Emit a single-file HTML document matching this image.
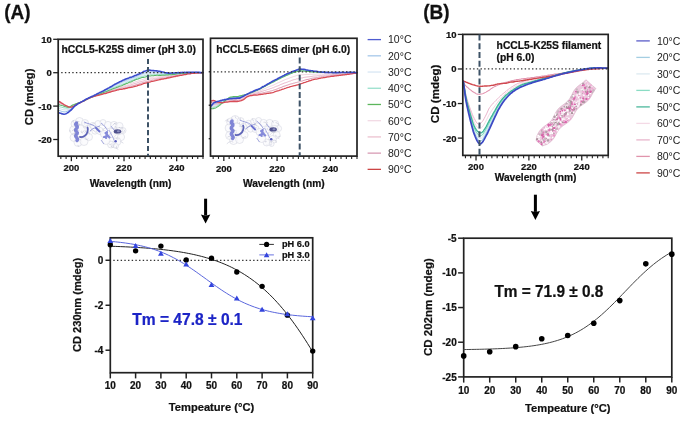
<!DOCTYPE html>
<html><head><meta charset="utf-8"><style>
html,body{margin:0;padding:0;background:#fff;width:685px;height:432px;overflow:hidden}
svg{display:block;filter:blur(0.3px)}
</style></head><body>
<svg width="685" height="432" viewBox="0 0 685 432" font-family='"Liberation Sans", sans-serif'>
<rect width="685" height="432" fill="#fff"/>
<text transform="translate(4.2,18.6) scale(1,1.09)" font-size="19" font-weight="bold" fill="#111" stroke="#111" stroke-width="0.25">(A)</text>
<text transform="translate(423.2,18.6) scale(1,1.09)" font-size="19" font-weight="bold" fill="#111" stroke="#111" stroke-width="0.25">(B)</text>
<g transform="translate(0,0)"><circle cx="75" cy="124" r="4" fill="#fafafc" fill-opacity="0.75" stroke="#cfd1dc" stroke-width="0.5"/><circle cx="79.5" cy="121.5" r="4" fill="#fafafc" fill-opacity="0.75" stroke="#cfd1dc" stroke-width="0.5"/><circle cx="85" cy="123" r="3.5" fill="#fafafc" fill-opacity="0.75" stroke="#cfd1dc" stroke-width="0.5"/><circle cx="73.5" cy="130" r="4" fill="#fafafc" fill-opacity="0.75" stroke="#cfd1dc" stroke-width="0.5"/><circle cx="74" cy="137.5" r="4" fill="#fafafc" fill-opacity="0.75" stroke="#cfd1dc" stroke-width="0.5"/><circle cx="78" cy="142.5" r="4" fill="#fafafc" fill-opacity="0.75" stroke="#cfd1dc" stroke-width="0.5"/><circle cx="84" cy="141.5" r="4" fill="#fafafc" fill-opacity="0.75" stroke="#cfd1dc" stroke-width="0.5"/><circle cx="89" cy="137" r="3.5" fill="#fafafc" fill-opacity="0.75" stroke="#cfd1dc" stroke-width="0.5"/><circle cx="88" cy="129" r="3.5" fill="#fafafc" fill-opacity="0.75" stroke="#cfd1dc" stroke-width="0.5"/><circle cx="80.5" cy="131" r="6" fill="#fafafc" fill-opacity="0.75" stroke="#cfd1dc" stroke-width="0.5"/><circle cx="93" cy="125.5" r="3.2" fill="#fafafc" fill-opacity="0.75" stroke="#cfd1dc" stroke-width="0.5"/><circle cx="98" cy="123.5" r="3" fill="#fafafc" fill-opacity="0.75" stroke="#cfd1dc" stroke-width="0.5"/><circle cx="103" cy="122.5" r="3" fill="#fafafc" fill-opacity="0.75" stroke="#cfd1dc" stroke-width="0.5"/><circle cx="95" cy="131" r="3.2" fill="#fafafc" fill-opacity="0.75" stroke="#cfd1dc" stroke-width="0.5"/><circle cx="100" cy="131" r="3.6" fill="#fafafc" fill-opacity="0.75" stroke="#cfd1dc" stroke-width="0.5"/><circle cx="108" cy="125" r="3.6" fill="#fafafc" fill-opacity="0.75" stroke="#cfd1dc" stroke-width="0.5"/><circle cx="114" cy="125" r="3.6" fill="#fafafc" fill-opacity="0.75" stroke="#cfd1dc" stroke-width="0.5"/><circle cx="119.5" cy="126" r="3.6" fill="#fafafc" fill-opacity="0.75" stroke="#cfd1dc" stroke-width="0.5"/><circle cx="123" cy="130.5" r="3" fill="#fafafc" fill-opacity="0.75" stroke="#cfd1dc" stroke-width="0.5"/><circle cx="121" cy="137" r="3.6" fill="#fafafc" fill-opacity="0.75" stroke="#cfd1dc" stroke-width="0.5"/><circle cx="117" cy="141.5" r="4" fill="#fafafc" fill-opacity="0.75" stroke="#cfd1dc" stroke-width="0.5"/><circle cx="111" cy="144.5" r="3.5" fill="#fafafc" fill-opacity="0.75" stroke="#cfd1dc" stroke-width="0.5"/><circle cx="106" cy="140.5" r="4" fill="#fafafc" fill-opacity="0.75" stroke="#cfd1dc" stroke-width="0.5"/><circle cx="104" cy="134" r="3.6" fill="#fafafc" fill-opacity="0.75" stroke="#cfd1dc" stroke-width="0.5"/><circle cx="112" cy="133" r="4.6" fill="#fafafc" fill-opacity="0.75" stroke="#cfd1dc" stroke-width="0.5"/><circle cx="119" cy="131" r="3.6" fill="#fafafc" fill-opacity="0.75" stroke="#cfd1dc" stroke-width="0.5"/><circle cx="116" cy="146" r="2.5" fill="#fafafc" fill-opacity="0.75" stroke="#cfd1dc" stroke-width="0.5"/><path d="M100.01 128.97 Q96.39 128.73 96.47 129.02" fill="none" stroke="#b4b6ca" stroke-width="0.45"/><path d="M73.91 120.72 Q72.11 120.59 73.31 122.68" fill="none" stroke="#b4b6ca" stroke-width="0.45"/><path d="M102.32 129.9 Q105.66 127.7 106.13 127.18" fill="none" stroke="#b4b6ca" stroke-width="0.45"/><path d="M78.08 121.53 Q76.04 122.81 76.55 123.43" fill="none" stroke="#b4b6ca" stroke-width="0.45"/><path d="M73.34 124.18 Q73.32 124.3 74.78 123.74" fill="none" stroke="#b4b6ca" stroke-width="0.45"/><path d="M95.38 126.99 Q95.53 127.89 97.73 128.19" fill="none" stroke="#b4b6ca" stroke-width="0.45"/><path d="M78.51 132.67 Q77.73 133.47 74.82 133.68" fill="none" stroke="#b4b6ca" stroke-width="0.45"/><path d="M119.03 127.41 Q120.13 127.52 120.59 127.98" fill="none" stroke="#b4b6ca" stroke-width="0.45"/><path d="M117.04 146.34 Q115.18 147.64 116.83 147.33" fill="none" stroke="#b4b6ca" stroke-width="0.45"/><path d="M116.03 126.54 Q113.66 126.89 115.11 127.55" fill="none" stroke="#b4b6ca" stroke-width="0.45"/><path d="M79.41 121.51 Q76.16 121.31 75.88 123.12" fill="none" stroke="#b4b6ca" stroke-width="0.45"/><path d="M74.51 131.48 Q75.99 134.08 74.91 133.78" fill="none" stroke="#b4b6ca" stroke-width="0.45"/><path d="M85.59 130.46 Q86.86 130.22 84.46 132.76" fill="none" stroke="#b4b6ca" stroke-width="0.45"/><path d="M79.87 124.96 Q79.16 123.96 77.73 124.87" fill="none" stroke="#b4b6ca" stroke-width="0.45"/><path d="M70.23 130.57 Q71.52 131.53 69.18 130.97" fill="none" stroke="#b4b6ca" stroke-width="0.45"/><path d="M120.37 141.4 Q121.44 141.89 123.37 143.19" fill="none" stroke="#b4b6ca" stroke-width="0.45"/><path d="M75.8 137.03 Q72.88 134.38 72.3 134.43" fill="none" stroke="#b4b6ca" stroke-width="0.45"/><path d="M75.68 128.91 Q74.24 128.63 71.89 131.15" fill="none" stroke="#b4b6ca" stroke-width="0.45"/><path d="M84.13 128.42 Q84.98 129.26 83.04 126.16" fill="none" stroke="#b4b6ca" stroke-width="0.45"/><path d="M96.1 132.52 Q93.81 130.38 92.78 130.13" fill="none" stroke="#b4b6ca" stroke-width="0.45"/><path d="M116.42 122.84 Q114.62 122.78 112.6 125.55" fill="none" stroke="#b4b6ca" stroke-width="0.45"/><path d="M118.35 138.89 Q116.06 139.57 116.44 138.09" fill="none" stroke="#b4b6ca" stroke-width="0.45"/><path d="M115.44 147.55 Q118.13 149.43 118.27 149.38" fill="none" stroke="#b4b6ca" stroke-width="0.45"/><path d="M82.7 133.53 Q80.23 131.23 81.54 130.7" fill="none" stroke="#b4b6ca" stroke-width="0.45"/><path d="M84.51 138.78 Q88.09 140.57 88.17 138.46" fill="none" stroke="#b4b6ca" stroke-width="0.45"/><path d="M123.48 128.94 Q121.15 126.94 121.24 127.3" fill="none" stroke="#b4b6ca" stroke-width="0.45"/><path d="M117.06 132.38 Q116.02 133.93 118.29 134.18" fill="none" stroke="#b4b6ca" stroke-width="0.45"/><path d="M112.01 132.34 Q110.05 134.41 109.44 134.08" fill="none" stroke="#b4b6ca" stroke-width="0.45"/><path d="M124.41 129.88 Q124.92 129.9 123.62 132.56" fill="none" stroke="#b4b6ca" stroke-width="0.45"/><path d="M77.11 122.53 Q77.32 124.76 80.35 124.37" fill="none" stroke="#b4b6ca" stroke-width="0.45"/><path d="M89.62 134.46 Q90.03 133.6 86.67 131.55" fill="none" stroke="#b4b6ca" stroke-width="0.45"/><path d="M116.26 124.33 Q114.23 124.06 114.28 123.09" fill="none" stroke="#b4b6ca" stroke-width="0.45"/><path d="M84.52 130.57 Q82.46 131.63 81.57 133.03" fill="none" stroke="#b4b6ca" stroke-width="0.45"/><path d="M94.65 123.49 Q91.35 124.28 90.68 125.29" fill="none" stroke="#b4b6ca" stroke-width="0.45"/><path d="M110.61 134.69 Q110.14 135.89 109.22 134.8" fill="none" stroke="#b4b6ca" stroke-width="0.45"/><path d="M75.94 134.81 Q76.03 134.17 73.93 133.47" fill="none" stroke="#b4b6ca" stroke-width="0.45"/><path d="M121.1 131.3 Q121.6 132.09 122 131.33" fill="none" stroke="#b4b6ca" stroke-width="0.45"/><path d="M109.16 144.3 Q111.16 145.35 112.69 142.85" fill="none" stroke="#b4b6ca" stroke-width="0.45"/><path d="M76.81 131.26 Q73.39 131.16 73.39 129.71" fill="none" stroke="#b4b6ca" stroke-width="0.45"/><path d="M113.9 144.91 Q113.16 144.13 111.14 146.21" fill="none" stroke="#b4b6ca" stroke-width="0.45"/><path d="M79.04 130.95 Q77.89 129.74 79.17 129.98" fill="none" stroke="#b4b6ca" stroke-width="0.45"/><path d="M101.03 131.21 Q99.59 130.76 97.17 130.2" fill="none" stroke="#b4b6ca" stroke-width="0.45"/><path d="M114.15 147.15 Q110.73 147.56 110.99 145.74" fill="none" stroke="#b4b6ca" stroke-width="0.45"/><path d="M85.14 121.89 Q86.11 122.16 84.52 124.36" fill="none" stroke="#b4b6ca" stroke-width="0.45"/><path d="M78.36 145.58 Q77 144.41 78.93 146.78" fill="none" stroke="#b4b6ca" stroke-width="0.45"/><path d="M76.5 123 C73.5 125 79.5 126 76.5 128.5 C73.5 131 79.5 132 76.5 134.5 C73.5 137 79.5 138 77 140.5" fill="none" stroke="#6c72d0" stroke-width="3.4" stroke-linecap="round" opacity="0.85"/><path d="M80 137 C83 137.5 86.5 135.5 87.5 132 C88.2 130 88 128.5 87.5 127.5" fill="none" stroke="#4e54b0" stroke-width="1.8" stroke-linecap="round" opacity="0.9"/><path d="M84 122 C88 124 92 124 96 127 M90 131 C93 128 97 127 100 126" fill="none" stroke="#7a80d0" stroke-width="0.7"/><path d="M96 128 L99.5 131.5" stroke="#6a70d0" stroke-width="1.8" stroke-linecap="round"/><path d="M101 123 C104 125 106 128 108 131" fill="none" stroke="#8a8fd8" stroke-width="0.8"/><path d="M105.5 133 L109.5 137.5 M107 132 L106 138 M104 137 L108 136" stroke="#7a80d8" stroke-width="2.2" stroke-linecap="round" opacity="0.9"/><ellipse cx="117.5" cy="131.4" rx="3.8" ry="2.2" fill="#50528e"/><ellipse cx="118.4" cy="131.2" rx="1.5" ry="1" fill="#8c8fc0"/><circle cx="115.6" cy="141.2" r="1.3" fill="#5a5ebe"/><path d="M111 126 L114 130 M101 140 L104 144 M109 130 C111 134 113 137 114 140" stroke="#8a8fd8" stroke-width="0.7" fill="none"/></g>
<g transform="translate(155.6,-2)"><circle cx="75" cy="124" r="4" fill="#fafafc" fill-opacity="0.75" stroke="#cfd1dc" stroke-width="0.5"/><circle cx="79.5" cy="121.5" r="4" fill="#fafafc" fill-opacity="0.75" stroke="#cfd1dc" stroke-width="0.5"/><circle cx="85" cy="123" r="3.5" fill="#fafafc" fill-opacity="0.75" stroke="#cfd1dc" stroke-width="0.5"/><circle cx="73.5" cy="130" r="4" fill="#fafafc" fill-opacity="0.75" stroke="#cfd1dc" stroke-width="0.5"/><circle cx="74" cy="137.5" r="4" fill="#fafafc" fill-opacity="0.75" stroke="#cfd1dc" stroke-width="0.5"/><circle cx="78" cy="142.5" r="4" fill="#fafafc" fill-opacity="0.75" stroke="#cfd1dc" stroke-width="0.5"/><circle cx="84" cy="141.5" r="4" fill="#fafafc" fill-opacity="0.75" stroke="#cfd1dc" stroke-width="0.5"/><circle cx="89" cy="137" r="3.5" fill="#fafafc" fill-opacity="0.75" stroke="#cfd1dc" stroke-width="0.5"/><circle cx="88" cy="129" r="3.5" fill="#fafafc" fill-opacity="0.75" stroke="#cfd1dc" stroke-width="0.5"/><circle cx="80.5" cy="131" r="6" fill="#fafafc" fill-opacity="0.75" stroke="#cfd1dc" stroke-width="0.5"/><circle cx="93" cy="125.5" r="3.2" fill="#fafafc" fill-opacity="0.75" stroke="#cfd1dc" stroke-width="0.5"/><circle cx="98" cy="123.5" r="3" fill="#fafafc" fill-opacity="0.75" stroke="#cfd1dc" stroke-width="0.5"/><circle cx="103" cy="122.5" r="3" fill="#fafafc" fill-opacity="0.75" stroke="#cfd1dc" stroke-width="0.5"/><circle cx="95" cy="131" r="3.2" fill="#fafafc" fill-opacity="0.75" stroke="#cfd1dc" stroke-width="0.5"/><circle cx="100" cy="131" r="3.6" fill="#fafafc" fill-opacity="0.75" stroke="#cfd1dc" stroke-width="0.5"/><circle cx="108" cy="125" r="3.6" fill="#fafafc" fill-opacity="0.75" stroke="#cfd1dc" stroke-width="0.5"/><circle cx="114" cy="125" r="3.6" fill="#fafafc" fill-opacity="0.75" stroke="#cfd1dc" stroke-width="0.5"/><circle cx="119.5" cy="126" r="3.6" fill="#fafafc" fill-opacity="0.75" stroke="#cfd1dc" stroke-width="0.5"/><circle cx="123" cy="130.5" r="3" fill="#fafafc" fill-opacity="0.75" stroke="#cfd1dc" stroke-width="0.5"/><circle cx="121" cy="137" r="3.6" fill="#fafafc" fill-opacity="0.75" stroke="#cfd1dc" stroke-width="0.5"/><circle cx="117" cy="141.5" r="4" fill="#fafafc" fill-opacity="0.75" stroke="#cfd1dc" stroke-width="0.5"/><circle cx="111" cy="144.5" r="3.5" fill="#fafafc" fill-opacity="0.75" stroke="#cfd1dc" stroke-width="0.5"/><circle cx="106" cy="140.5" r="4" fill="#fafafc" fill-opacity="0.75" stroke="#cfd1dc" stroke-width="0.5"/><circle cx="104" cy="134" r="3.6" fill="#fafafc" fill-opacity="0.75" stroke="#cfd1dc" stroke-width="0.5"/><circle cx="112" cy="133" r="4.6" fill="#fafafc" fill-opacity="0.75" stroke="#cfd1dc" stroke-width="0.5"/><circle cx="119" cy="131" r="3.6" fill="#fafafc" fill-opacity="0.75" stroke="#cfd1dc" stroke-width="0.5"/><circle cx="116" cy="146" r="2.5" fill="#fafafc" fill-opacity="0.75" stroke="#cfd1dc" stroke-width="0.5"/><path d="M108.54 130.76 Q107.37 133.28 105.12 133.39" fill="none" stroke="#b4b6ca" stroke-width="0.45"/><path d="M74.69 143.69 Q72.77 144.13 71.22 145.86" fill="none" stroke="#b4b6ca" stroke-width="0.45"/><path d="M85 121.88 Q83.55 119.74 85.22 120.31" fill="none" stroke="#b4b6ca" stroke-width="0.45"/><path d="M72.82 124.05 Q73.11 122.63 71.32 122.88" fill="none" stroke="#b4b6ca" stroke-width="0.45"/><path d="M98 123.34 Q96.39 119.95 96.78 120.45" fill="none" stroke="#b4b6ca" stroke-width="0.45"/><path d="M111.05 134.53 Q111.55 132.88 108.57 134.38" fill="none" stroke="#b4b6ca" stroke-width="0.45"/><path d="M115.86 130.97 Q115.41 132 115.82 132.97" fill="none" stroke="#b4b6ca" stroke-width="0.45"/><path d="M73.05 121.89 Q70.35 121.27 69.61 123.34" fill="none" stroke="#b4b6ca" stroke-width="0.45"/><path d="M74.73 143.24 Q75.34 142.72 77.7 144.26" fill="none" stroke="#b4b6ca" stroke-width="0.45"/><path d="M78.82 131.37 Q79.77 132.95 76.93 134.15" fill="none" stroke="#b4b6ca" stroke-width="0.45"/><path d="M87.33 128.7 Q85.24 128.35 83.34 127.99" fill="none" stroke="#b4b6ca" stroke-width="0.45"/><path d="M81.25 133.14 Q77.63 132.03 77.29 131.73" fill="none" stroke="#b4b6ca" stroke-width="0.45"/><path d="M87.04 124.98 Q88.38 125.7 87.72 125.16" fill="none" stroke="#b4b6ca" stroke-width="0.45"/><path d="M110.1 144.37 Q111.59 142.45 109.21 143.33" fill="none" stroke="#b4b6ca" stroke-width="0.45"/><path d="M119.95 136.82 Q119.44 137.85 121.82 138.69" fill="none" stroke="#b4b6ca" stroke-width="0.45"/><path d="M115.06 142.79 Q116.13 144.74 115.73 145.15" fill="none" stroke="#b4b6ca" stroke-width="0.45"/><path d="M77.45 128.82 Q76.11 130.34 74.29 130.84" fill="none" stroke="#b4b6ca" stroke-width="0.45"/><path d="M105.07 138.42 Q106.22 137.92 104.98 135.44" fill="none" stroke="#b4b6ca" stroke-width="0.45"/><path d="M111.26 125.57 Q110.48 123.68 107.86 124.16" fill="none" stroke="#b4b6ca" stroke-width="0.45"/><path d="M111.43 147.27 Q111.32 147.65 111.38 146.57" fill="none" stroke="#b4b6ca" stroke-width="0.45"/><path d="M112.95 136.51 Q112.11 134.26 114.09 133.97" fill="none" stroke="#b4b6ca" stroke-width="0.45"/><path d="M111.62 127.13 Q110.13 124.75 112.16 124.21" fill="none" stroke="#b4b6ca" stroke-width="0.45"/><path d="M107.63 138.77 Q108.4 138 109.04 137.51" fill="none" stroke="#b4b6ca" stroke-width="0.45"/><path d="M120.05 123.98 Q120.03 125.12 123.87 126.6" fill="none" stroke="#b4b6ca" stroke-width="0.45"/><path d="M115.91 147.04 Q114.55 148.13 115.51 145.66" fill="none" stroke="#b4b6ca" stroke-width="0.45"/><path d="M81.8 135.44 Q82.18 134.05 78.93 135.59" fill="none" stroke="#b4b6ca" stroke-width="0.45"/><path d="M115.93 133.26 Q116.41 135.46 119.03 134.48" fill="none" stroke="#b4b6ca" stroke-width="0.45"/><path d="M95.24 127.06 Q93.07 127.95 92.37 126.12" fill="none" stroke="#b4b6ca" stroke-width="0.45"/><path d="M121.88 139.39 Q122.97 138.33 125.09 138.13" fill="none" stroke="#b4b6ca" stroke-width="0.45"/><path d="M90.2 130.84 Q87.71 130.83 88.4 128.13" fill="none" stroke="#b4b6ca" stroke-width="0.45"/><path d="M83.96 125.97 Q83.5 126.87 84.05 124.11" fill="none" stroke="#b4b6ca" stroke-width="0.45"/><path d="M119.52 142.36 Q121.81 143.8 120.57 144.84" fill="none" stroke="#b4b6ca" stroke-width="0.45"/><path d="M111.01 131.53 Q111.17 130.16 113.03 132.39" fill="none" stroke="#b4b6ca" stroke-width="0.45"/><path d="M86.68 140.17 Q89.2 138.65 90.49 138.73" fill="none" stroke="#b4b6ca" stroke-width="0.45"/><path d="M101.21 129.83 Q98.71 130.44 98.55 127.8" fill="none" stroke="#b4b6ca" stroke-width="0.45"/><path d="M97.84 124.6 Q99.26 124.65 101.09 127.58" fill="none" stroke="#b4b6ca" stroke-width="0.45"/><path d="M80.77 120.72 Q79.1 118.53 79.51 118.27" fill="none" stroke="#b4b6ca" stroke-width="0.45"/><path d="M111.98 130.38 Q111.14 129.81 111.29 130.53" fill="none" stroke="#b4b6ca" stroke-width="0.45"/><path d="M73.48 126.33 Q75.36 125.72 77.22 124.08" fill="none" stroke="#b4b6ca" stroke-width="0.45"/><path d="M118.32 124.48 Q117 123.51 116.49 122.97" fill="none" stroke="#b4b6ca" stroke-width="0.45"/><path d="M71.81 139.29 Q73.74 137.21 74.97 139.12" fill="none" stroke="#b4b6ca" stroke-width="0.45"/><path d="M116.23 143.66 Q116.56 141.53 120.01 142.15" fill="none" stroke="#b4b6ca" stroke-width="0.45"/><path d="M122.72 139.65 Q123.14 140.65 123.9 141.24" fill="none" stroke="#b4b6ca" stroke-width="0.45"/><path d="M106.15 127.11 Q105.21 127.16 103.17 125.62" fill="none" stroke="#b4b6ca" stroke-width="0.45"/><path d="M76.28 120.11 Q75.93 119.25 76.47 120.61" fill="none" stroke="#b4b6ca" stroke-width="0.45"/><path d="M76.5 123 C73.5 125 79.5 126 76.5 128.5 C73.5 131 79.5 132 76.5 134.5 C73.5 137 79.5 138 77 140.5" fill="none" stroke="#6c72d0" stroke-width="3.4" stroke-linecap="round" opacity="0.85"/><path d="M80 137 C83 137.5 86.5 135.5 87.5 132 C88.2 130 88 128.5 87.5 127.5" fill="none" stroke="#4e54b0" stroke-width="1.8" stroke-linecap="round" opacity="0.9"/><path d="M84 122 C88 124 92 124 96 127 M90 131 C93 128 97 127 100 126" fill="none" stroke="#7a80d0" stroke-width="0.7"/><path d="M96 128 L99.5 131.5" stroke="#6a70d0" stroke-width="1.8" stroke-linecap="round"/><path d="M101 123 C104 125 106 128 108 131" fill="none" stroke="#8a8fd8" stroke-width="0.8"/><path d="M105.5 133 L109.5 137.5 M107 132 L106 138 M104 137 L108 136" stroke="#7a80d8" stroke-width="2.2" stroke-linecap="round" opacity="0.9"/><ellipse cx="117.5" cy="131.4" rx="3.8" ry="2.2" fill="#50528e"/><ellipse cx="118.4" cy="131.2" rx="1.5" ry="1" fill="#8c8fc0"/><circle cx="115.6" cy="141.2" r="1.3" fill="#5a5ebe"/><path d="M111 126 L114 130 M101 140 L104 144 M109 130 C111 134 113 137 114 140" stroke="#8a8fd8" stroke-width="0.7" fill="none"/></g>
<g transform="translate(539.2,143.2) rotate(-48.8)"><path d="M0 -4.26 L1.12 -4.83 L2.24 -5.46 L3.36 -6.17 L4.49 -6.73 L5.61 -7.03 L6.73 -7.3 L7.85 -7.54 L8.97 -7.71 L10.09 -7.83 L11.21 -7.87 L12.34 -7.83 L13.46 -7.73 L14.58 -7.56 L15.7 -7.34 L16.82 -7.09 L17.94 -6.82 L19.06 -6.55 L20.19 -6.31 L21.31 -6.11 L22.43 -5.96 L23.55 -5.88 L24.67 -5.87 L25.79 -5.94 L26.91 -6.07 L28.04 -6.27 L29.16 -6.52 L30.28 -6.81 L31.4 -7.11 L32.52 -7.41 L33.64 -7.69 L34.76 -7.92 L35.89 -8.11 L37.01 -8.23 L38.13 -8.27 L39.25 -8.24 L40.37 -8.14 L41.49 -7.98 L42.61 -7.76 L43.74 -7.51 L44.86 -7.25 L45.98 -6.98 L47.1 -6.73 L48.22 -6.53 L49.34 -6.38 L50.46 -6.29 L51.59 -6.27 L52.71 -6.33 L53.83 -6.47 L54.95 -6.66 L56.07 -6.91 L57.19 -7.19 L58.31 -7.49 L59.44 -7.79 L60.56 -8.07 L61.68 -8.31 L62.8 -8.5 L63.92 -8.62 L65.04 -8.68 L66.16 -8.65 L67.29 -8.56 L68.41 -8.4 L69.53 -8.19 L70.65 -7.94 L71.77 -7.67 L72.89 -7.4 L74.01 -7.16 L75.14 -6.95 L76.26 -6.79 L77.38 -6.7 L78.5 -6.68 L78.5 6.68 L77.38 6.7 L76.26 6.79 L75.14 6.95 L74.01 7.16 L72.89 7.4 L71.77 7.67 L70.65 7.94 L69.53 8.19 L68.41 8.4 L67.29 8.56 L66.16 8.65 L65.04 8.68 L63.92 8.62 L62.8 8.5 L61.68 8.31 L60.56 8.07 L59.44 7.79 L58.31 7.49 L57.19 7.19 L56.07 6.91 L54.95 6.66 L53.83 6.47 L52.71 6.33 L51.59 6.27 L50.46 6.29 L49.34 6.38 L48.22 6.53 L47.1 6.73 L45.98 6.98 L44.86 7.25 L43.74 7.51 L42.61 7.76 L41.49 7.98 L40.37 8.14 L39.25 8.24 L38.13 8.27 L37.01 8.23 L35.89 8.11 L34.76 7.92 L33.64 7.69 L32.52 7.41 L31.4 7.11 L30.28 6.81 L29.16 6.52 L28.04 6.27 L26.91 6.07 L25.79 5.94 L24.67 5.87 L23.55 5.88 L22.43 5.96 L21.31 6.11 L20.19 6.31 L19.06 6.55 L17.94 6.82 L16.82 7.09 L15.7 7.34 L14.58 7.56 L13.46 7.73 L12.34 7.83 L11.21 7.87 L10.09 7.83 L8.97 7.71 L7.85 7.54 L6.73 7.3 L5.61 7.03 L4.49 6.73 L3.36 6.17 L2.24 5.46 L1.12 4.83 L0 4.26 Z" fill="#eccade" stroke="#d2a6be" stroke-width="0.5"/><circle cx="47.02" cy="-5.83" r="0.74" fill="#c8b8c0"/><circle cx="22.22" cy="-1.9" r="1.17" fill="#ffffff"/><circle cx="37.35" cy="-3.95" r="0.7" fill="#b0a0a8"/><circle cx="54.99" cy="-2.26" r="0.52" fill="#c8b8c0"/><circle cx="68.84" cy="2.21" r="0.56" fill="#ffffff"/><circle cx="52.12" cy="4.67" r="0.68" fill="#e078b8"/><circle cx="54.31" cy="2.51" r="0.79" fill="#b0a0a8"/><circle cx="16.03" cy="3.84" r="1.09" fill="#a89098"/><circle cx="5.99" cy="-0.05" r="0.66" fill="#ffffff"/><circle cx="18.55" cy="-3.27" r="1.11" fill="#f8eef4"/><circle cx="9.18" cy="1.72" r="0.99" fill="#ffffff"/><circle cx="38.1" cy="6.13" r="0.55" fill="#d860a8"/><circle cx="71.7" cy="-6.14" r="0.52" fill="#d860a8"/><circle cx="32.74" cy="2.8" r="0.65" fill="#c8b8c0"/><circle cx="69.87" cy="5.61" r="1.09" fill="#f0a8d4"/><circle cx="72.44" cy="-2.29" r="0.65" fill="#a89098"/><circle cx="58.19" cy="-6.23" r="1.03" fill="#b0a0a8"/><circle cx="65.33" cy="7.64" r="0.85" fill="#f0a8d4"/><circle cx="1.02" cy="-1.75" r="0.78" fill="#f0a8d4"/><circle cx="43.95" cy="3.45" r="0.8" fill="#f8eef4"/><circle cx="64.01" cy="-1.06" r="0.54" fill="#c8b8c0"/><circle cx="15.85" cy="0.54" r="0.86" fill="#ffffff"/><circle cx="28.81" cy="4.48" r="0.52" fill="#b0a0a8"/><circle cx="19.87" cy="1.4" r="0.82" fill="#b0a0a8"/><circle cx="3.48" cy="-4.76" r="1.24" fill="#f8eef4"/><circle cx="15.79" cy="-5.7" r="0.98" fill="#ffffff"/><circle cx="21.74" cy="4.8" r="0.99" fill="#f8eef4"/><circle cx="58.2" cy="2.53" r="1.24" fill="#f8eef4"/><circle cx="1.09" cy="2.05" r="1.23" fill="#f0a8d4"/><circle cx="2.67" cy="-2.62" r="0.88" fill="#c8b8c0"/><circle cx="74.16" cy="-1.44" r="0.7" fill="#b0a0a8"/><circle cx="63.46" cy="-5.72" r="0.9" fill="#e078b8"/><circle cx="62.52" cy="3.65" r="1.16" fill="#d860a8"/><circle cx="47.5" cy="-2.02" r="0.76" fill="#ffffff"/><circle cx="61.08" cy="1.41" r="0.91" fill="#b0a0a8"/><circle cx="58.7" cy="-3.43" r="0.55" fill="#e078b8"/><circle cx="37.84" cy="0.67" r="0.63" fill="#b0a0a8"/><circle cx="68.74" cy="7.36" r="0.71" fill="#f0a8d4"/><circle cx="16.82" cy="-0.99" r="1.29" fill="#c8b8c0"/><circle cx="14.12" cy="-5.02" r="0.87" fill="#ffffff"/><circle cx="58.32" cy="4.64" r="1.03" fill="#f0a8d4"/><circle cx="60.76" cy="-3.02" r="0.72" fill="#f8eef4"/><circle cx="29.48" cy="2.76" r="0.66" fill="#ffffff"/><circle cx="15.08" cy="-3.53" r="0.73" fill="#ffffff"/><circle cx="25.9" cy="-1.07" r="1.29" fill="#a89098"/><circle cx="41.27" cy="2.16" r="0.58" fill="#c8b8c0"/><circle cx="77" cy="-4.71" r="0.88" fill="#ffffff"/><circle cx="65.44" cy="6.53" r="0.53" fill="#f8eef4"/><circle cx="18.71" cy="-5.25" r="0.98" fill="#ffffff"/><circle cx="72.33" cy="-1.72" r="1.19" fill="#c8b8c0"/><circle cx="47.17" cy="3.26" r="1.03" fill="#e078b8"/><circle cx="8.93" cy="1.33" r="1" fill="#ffffff"/><circle cx="3.68" cy="-1.79" r="0.54" fill="#f8eef4"/><circle cx="3.74" cy="2.61" r="1.23" fill="#e078b8"/><circle cx="63.77" cy="-1.42" r="0.8" fill="#f8eef4"/><circle cx="6.79" cy="-6.11" r="0.9" fill="#c8b8c0"/><circle cx="5.67" cy="-4.98" r="0.82" fill="#a89098"/><circle cx="12.69" cy="0.48" r="1.02" fill="#b0a0a8"/><circle cx="54.28" cy="-1.03" r="0.73" fill="#f8eef4"/><circle cx="32.93" cy="-6.02" r="1.1" fill="#ffffff"/><circle cx="32.64" cy="-6.4" r="1.11" fill="#ffffff"/><circle cx="50.36" cy="-1.2" r="0.82" fill="#e078b8"/><circle cx="34.19" cy="-4.81" r="0.59" fill="#f0a8d4"/><circle cx="32.04" cy="4.96" r="0.87" fill="#d860a8"/><circle cx="10.8" cy="-6.33" r="0.61" fill="#b0a0a8"/><circle cx="7.65" cy="1.64" r="0.8" fill="#a89098"/><circle cx="14" cy="-2.08" r="0.63" fill="#d860a8"/><circle cx="71.97" cy="-5.34" r="0.89" fill="#ffffff"/><circle cx="23.99" cy="3.42" r="0.53" fill="#c8b8c0"/><circle cx="24.99" cy="1.09" r="1.01" fill="#f0a8d4"/><circle cx="70.33" cy="1.74" r="1.16" fill="#d860a8"/><circle cx="50.04" cy="3.93" r="1" fill="#ffffff"/><circle cx="64.56" cy="-4.99" r="0.67" fill="#b0a0a8"/><circle cx="72.97" cy="-4.52" r="0.79" fill="#d860a8"/><circle cx="19.8" cy="2.52" r="1.22" fill="#e078b8"/><circle cx="68.77" cy="5.16" r="1.04" fill="#ffffff"/><circle cx="9.85" cy="1.4" r="0.94" fill="#f8eef4"/><circle cx="50.71" cy="-2.1" r="0.7" fill="#b0a0a8"/><circle cx="51.47" cy="-0.58" r="0.85" fill="#e078b8"/><circle cx="1.07" cy="3.89" r="0.87" fill="#c8b8c0"/><circle cx="59.52" cy="3.93" r="0.87" fill="#d860a8"/><circle cx="63.13" cy="-1.54" r="0.55" fill="#ffffff"/><circle cx="33.91" cy="-5.67" r="0.85" fill="#a89098"/><circle cx="51.33" cy="-5.03" r="0.6" fill="#ffffff"/><circle cx="60.6" cy="0.17" r="0.54" fill="#a89098"/><circle cx="69.62" cy="2.25" r="1.13" fill="#e078b8"/><circle cx="66.71" cy="7.75" r="1.09" fill="#f0a8d4"/><circle cx="15.7" cy="6.3" r="0.89" fill="#d860a8"/><circle cx="53.56" cy="2.49" r="0.68" fill="#ffffff"/><circle cx="47.74" cy="-2.88" r="0.76" fill="#f8eef4"/><circle cx="70.4" cy="-0.63" r="0.7" fill="#c8b8c0"/><circle cx="16.82" cy="-2.98" r="0.9" fill="#ffffff"/><circle cx="29.43" cy="-3.49" r="0.82" fill="#f8eef4"/><circle cx="53.07" cy="4.4" r="0.63" fill="#f8eef4"/><circle cx="9.65" cy="0.43" r="1.01" fill="#ffffff"/><circle cx="75.1" cy="-0.58" r="0.92" fill="#f0a8d4"/><circle cx="20.18" cy="0.39" r="1.19" fill="#ffffff"/><circle cx="21.16" cy="5.23" r="0.96" fill="#ffffff"/><circle cx="26.24" cy="-4.34" r="0.68" fill="#e078b8"/><circle cx="23.59" cy="0.16" r="0.75" fill="#ffffff"/><circle cx="57.17" cy="3.16" r="0.68" fill="#f8eef4"/><circle cx="48.17" cy="-0.78" r="0.91" fill="#e078b8"/><circle cx="10.95" cy="-3.85" r="1.02" fill="#e078b8"/><circle cx="4.98" cy="0.81" r="0.74" fill="#a89098"/><circle cx="28.26" cy="-3.04" r="0.97" fill="#d860a8"/><circle cx="16.5" cy="1.58" r="0.88" fill="#d860a8"/><circle cx="1.89" cy="2.69" r="1.07" fill="#c8b8c0"/><circle cx="8.17" cy="1.88" r="1.2" fill="#f8eef4"/><circle cx="31.71" cy="-3.01" r="0.51" fill="#a89098"/><circle cx="69.45" cy="1.4" r="0.96" fill="#a89098"/><circle cx="57.21" cy="-3.22" r="1.22" fill="#e078b8"/><circle cx="5.53" cy="-5.89" r="0.65" fill="#d860a8"/><circle cx="5.29" cy="3.43" r="0.51" fill="#a89098"/><circle cx="51.31" cy="-3.31" r="0.83" fill="#a89098"/><circle cx="47.56" cy="0.08" r="1.01" fill="#d860a8"/><circle cx="39.91" cy="-6.45" r="1" fill="#c8b8c0"/><circle cx="55.81" cy="-5.97" r="1.18" fill="#c8b8c0"/><circle cx="6.99" cy="2.04" r="0.64" fill="#f0a8d4"/><circle cx="20.9" cy="1.55" r="0.6" fill="#f8eef4"/><circle cx="55.53" cy="-2.8" r="0.94" fill="#b0a0a8"/><circle cx="53.53" cy="4.69" r="1.28" fill="#f8eef4"/><circle cx="50.17" cy="5.12" r="0.67" fill="#a89098"/><circle cx="1.97" cy="-2.16" r="0.69" fill="#ffffff"/><circle cx="73.45" cy="3.19" r="0.76" fill="#b0a0a8"/><circle cx="26.07" cy="-2.69" r="1.23" fill="#a89098"/><circle cx="36.9" cy="5.04" r="1.06" fill="#e078b8"/><circle cx="34.42" cy="3.17" r="0.96" fill="#f8eef4"/><circle cx="61.49" cy="-1.62" r="0.97" fill="#d860a8"/><circle cx="11.92" cy="-6.67" r="0.59" fill="#d860a8"/><circle cx="27.32" cy="-3.82" r="0.52" fill="#e078b8"/><circle cx="11.44" cy="2.03" r="0.53" fill="#f0a8d4"/><circle cx="57.46" cy="-5.61" r="0.97" fill="#ffffff"/><circle cx="16.13" cy="5.86" r="0.93" fill="#f0a8d4"/><circle cx="68.45" cy="3.88" r="1.07" fill="#b0a0a8"/><circle cx="9.04" cy="-4.07" r="0.59" fill="#e078b8"/><circle cx="73.8" cy="5.26" r="1.1" fill="#f0a8d4"/><circle cx="64.25" cy="2.06" r="0.73" fill="#f0a8d4"/><circle cx="11" cy="4.13" r="1.02" fill="#f8eef4"/><circle cx="25.34" cy="-0.78" r="0.52" fill="#f8eef4"/><circle cx="72.32" cy="-6.09" r="1.11" fill="#ffffff"/><circle cx="59.95" cy="1.45" r="0.88" fill="#f8eef4"/><circle cx="48.35" cy="-5.35" r="0.83" fill="#b0a0a8"/><circle cx="40.68" cy="-5.87" r="0.88" fill="#e078b8"/><circle cx="42.16" cy="-4" r="1.19" fill="#f0a8d4"/><circle cx="44.98" cy="-2.73" r="0.85" fill="#a89098"/><circle cx="16.34" cy="3.36" r="1.28" fill="#e078b8"/><circle cx="27.55" cy="-4.35" r="1.06" fill="#d860a8"/><circle cx="75.17" cy="1.14" r="1.27" fill="#a89098"/><circle cx="20.84" cy="4.78" r="0.73" fill="#ffffff"/><circle cx="72.95" cy="-3.54" r="0.63" fill="#f0a8d4"/><circle cx="38.5" cy="7.34" r="0.95" fill="#f0a8d4"/><circle cx="49.09" cy="-1.62" r="0.82" fill="#b0a0a8"/><circle cx="69.38" cy="3.64" r="0.84" fill="#e078b8"/><circle cx="29.4" cy="-2.28" r="0.84" fill="#a89098"/><circle cx="39.34" cy="-1.8" r="1.21" fill="#ffffff"/><circle cx="73.39" cy="-4.84" r="0.98" fill="#e078b8"/><circle cx="27.6" cy="-1.87" r="0.62" fill="#c8b8c0"/><circle cx="51.72" cy="2.65" r="0.64" fill="#c8b8c0"/><circle cx="53.79" cy="-2.75" r="0.68" fill="#ffffff"/><circle cx="36.33" cy="5.67" r="0.69" fill="#ffffff"/><circle cx="21.37" cy="2.7" r="1.16" fill="#d860a8"/><circle cx="56.42" cy="5.88" r="1.08" fill="#a89098"/><circle cx="27.61" cy="-2.84" r="1.26" fill="#f8eef4"/><circle cx="75.79" cy="2.77" r="0.58" fill="#f0a8d4"/><circle cx="15.83" cy="-4.55" r="0.62" fill="#f8eef4"/><circle cx="57.19" cy="-0.83" r="0.66" fill="#f0a8d4"/><circle cx="22.39" cy="3.98" r="0.87" fill="#e078b8"/><circle cx="31.48" cy="3.69" r="1.05" fill="#a89098"/><circle cx="76.23" cy="-2.44" r="0.52" fill="#f8eef4"/><circle cx="47.23" cy="-1.13" r="1.09" fill="#b0a0a8"/><circle cx="54.72" cy="1.02" r="1.02" fill="#ffffff"/><circle cx="52.16" cy="1.68" r="1.2" fill="#ffffff"/><circle cx="53.06" cy="1.58" r="0.86" fill="#ffffff"/><circle cx="20.78" cy="2.17" r="1.22" fill="#ffffff"/><circle cx="60.96" cy="3.14" r="1" fill="#f8eef4"/><circle cx="66.12" cy="-0.27" r="0.52" fill="#b0a0a8"/><circle cx="40.65" cy="2.35" r="1.2" fill="#ffffff"/><circle cx="60.64" cy="-1.62" r="0.89" fill="#f0a8d4"/><circle cx="3.73" cy="0.49" r="0.63" fill="#ffffff"/><circle cx="40.73" cy="-5.82" r="0.96" fill="#a89098"/><circle cx="16.56" cy="-0.31" r="0.51" fill="#ffffff"/><circle cx="40.92" cy="-1.3" r="1.26" fill="#ffffff"/><circle cx="76.95" cy="-3.75" r="0.91" fill="#f0a8d4"/><circle cx="56.87" cy="1.44" r="1.01" fill="#f8eef4"/><circle cx="21.9" cy="-1.05" r="0.51" fill="#b0a0a8"/><circle cx="71.2" cy="1.8" r="1.04" fill="#f8eef4"/><circle cx="9.2" cy="-2.73" r="0.82" fill="#a89098"/><circle cx="75.51" cy="6.02" r="1.27" fill="#c8b8c0"/><circle cx="17.1" cy="-4.61" r="1.12" fill="#ffffff"/><circle cx="36.88" cy="0.92" r="0.68" fill="#d860a8"/><circle cx="27.96" cy="1.51" r="1.15" fill="#b0a0a8"/><circle cx="36.8" cy="-3.05" r="0.94" fill="#d860a8"/><circle cx="60.77" cy="-0.45" r="1.13" fill="#ffffff"/><circle cx="21.36" cy="-1.31" r="0.7" fill="#b0a0a8"/><circle cx="53" cy="-0.21" r="1.14" fill="#f8eef4"/><circle cx="28.33" cy="1.71" r="0.76" fill="#c8b8c0"/><circle cx="33.75" cy="1.9" r="1.03" fill="#ffffff"/><circle cx="12.55" cy="-2.76" r="0.81" fill="#f0a8d4"/><circle cx="64.47" cy="6.38" r="1.13" fill="#d860a8"/><circle cx="41.61" cy="-2.22" r="0.97" fill="#e078b8"/><circle cx="16.93" cy="-5.36" r="0.73" fill="#f0a8d4"/><circle cx="45.29" cy="4.49" r="0.65" fill="#c8b8c0"/><circle cx="27.44" cy="-3.72" r="1.22" fill="#a89098"/><circle cx="13.71" cy="5.39" r="0.99" fill="#f0a8d4"/><circle cx="52.2" cy="4.33" r="1.13" fill="#f8eef4"/><circle cx="15.98" cy="2.5" r="0.92" fill="#c8b8c0"/><circle cx="52.42" cy="-4.22" r="0.59" fill="#b0a0a8"/><circle cx="18.81" cy="-4.19" r="0.89" fill="#e078b8"/><circle cx="38.05" cy="6.06" r="1.06" fill="#ffffff"/><circle cx="39.11" cy="0.59" r="1.19" fill="#e078b8"/><circle cx="13.13" cy="-2.5" r="1.06" fill="#c8b8c0"/><circle cx="51.96" cy="3.74" r="0.8" fill="#b0a0a8"/><circle cx="77.7" cy="2.07" r="0.64" fill="#ffffff"/><circle cx="49.72" cy="-5.22" r="0.99" fill="#ffffff"/><circle cx="62.98" cy="-6.27" r="0.89" fill="#d860a8"/><circle cx="3.41" cy="2.36" r="1" fill="#ffffff"/><circle cx="8.06" cy="2.15" r="0.77" fill="#a89098"/><circle cx="43.41" cy="5.6" r="0.73" fill="#ffffff"/><circle cx="33.28" cy="0.73" r="1.16" fill="#f8eef4"/><circle cx="28.11" cy="-0.07" r="0.77" fill="#f8eef4"/><circle cx="67.93" cy="-2.38" r="0.66" fill="#c8b8c0"/><circle cx="61.7" cy="-2.54" r="0.75" fill="#f8eef4"/><circle cx="10.61" cy="6.67" r="0.57" fill="#e078b8"/><circle cx="31.47" cy="0.69" r="0.82" fill="#e078b8"/><circle cx="31.44" cy="-4.95" r="0.54" fill="#c8b8c0"/><circle cx="47.61" cy="1.84" r="1.13" fill="#a89098"/><circle cx="47.84" cy="1.35" r="1" fill="#f0a8d4"/><circle cx="17.14" cy="2.07" r="0.87" fill="#d860a8"/><circle cx="8.59" cy="-4.37" r="0.53" fill="#f0a8d4"/><circle cx="71.09" cy="2.19" r="0.8" fill="#d860a8"/><circle cx="61.28" cy="0.92" r="0.71" fill="#f8eef4"/><circle cx="15.01" cy="-6.22" r="0.52" fill="#e078b8"/><circle cx="39.08" cy="0.33" r="1.16" fill="#b0a0a8"/><circle cx="45.04" cy="5.36" r="0.86" fill="#e078b8"/><circle cx="53.09" cy="1.05" r="1.29" fill="#d860a8"/><circle cx="37.36" cy="-1.3" r="0.58" fill="#c8b8c0"/><circle cx="17.12" cy="-4.33" r="0.51" fill="#e078b8"/><circle cx="1.52" cy="1.44" r="1.29" fill="#f0a8d4"/><circle cx="17.58" cy="-4.62" r="0.88" fill="#f8eef4"/><circle cx="56.12" cy="-3.15" r="1.09" fill="#d860a8"/><circle cx="71.76" cy="-1.84" r="1.1" fill="#d860a8"/><circle cx="56.92" cy="-5.25" r="1" fill="#c8b8c0"/><circle cx="36.22" cy="6.36" r="0.7" fill="#e078b8"/><circle cx="55.95" cy="-5.94" r="0.51" fill="#f0a8d4"/><circle cx="30.71" cy="-2.3" r="0.98" fill="#c8b8c0"/><circle cx="47.63" cy="-2.14" r="1.26" fill="#c8b8c0"/><circle cx="36.93" cy="-4.95" r="1.27" fill="#f0a8d4"/><circle cx="28.74" cy="1.63" r="1" fill="#b0a0a8"/><circle cx="37.48" cy="4.15" r="0.86" fill="#f8eef4"/><circle cx="61.14" cy="0.99" r="0.73" fill="#e078b8"/><circle cx="48.62" cy="1.71" r="1.14" fill="#ffffff"/><circle cx="67.67" cy="3.48" r="0.51" fill="#d860a8"/><circle cx="47.03" cy="-2.28" r="0.84" fill="#ffffff"/><circle cx="29.77" cy="2.17" r="0.98" fill="#ffffff"/><circle cx="62.9" cy="-3.34" r="0.5" fill="#f8eef4"/><circle cx="21.41" cy="-3.63" r="1.24" fill="#e078b8"/><circle cx="22.99" cy="-3.67" r="1.21" fill="#d860a8"/><circle cx="21.86" cy="3.67" r="1.15" fill="#c8b8c0"/><circle cx="27.47" cy="-4.45" r="0.94" fill="#b0a0a8"/><circle cx="16.21" cy="3.22" r="1.25" fill="#ffffff"/><circle cx="24.6" cy="-4.49" r="0.82" fill="#ffffff"/><circle cx="72.01" cy="1.18" r="0.51" fill="#b0a0a8"/><circle cx="36.15" cy="-6.05" r="1.15" fill="#f0a8d4"/><circle cx="18.71" cy="0.93" r="1.22" fill="#a89098"/><circle cx="25.48" cy="0.06" r="0.66" fill="#ffffff"/><circle cx="15.59" cy="-4.19" r="1.06" fill="#ffffff"/><circle cx="45.24" cy="-1.79" r="1.12" fill="#d860a8"/><circle cx="19.74" cy="4.74" r="0.89" fill="#f0a8d4"/><circle cx="29.38" cy="-0.42" r="0.57" fill="#ffffff"/><circle cx="46.73" cy="-1.86" r="0.92" fill="#e078b8"/><circle cx="8.04" cy="-4" r="1.2" fill="#c8b8c0"/><circle cx="45.92" cy="-3.55" r="1.24" fill="#f8eef4"/><circle cx="33.56" cy="6.13" r="1.11" fill="#d860a8"/><circle cx="20.33" cy="-5.07" r="0.66" fill="#d860a8"/><circle cx="29.88" cy="-5.58" r="0.53" fill="#ffffff"/><circle cx="67.75" cy="-0.64" r="1.26" fill="#f0a8d4"/><circle cx="67.16" cy="2.17" r="1.24" fill="#f0a8d4"/><circle cx="20.58" cy="0.7" r="1.01" fill="#a89098"/><circle cx="31.03" cy="-0.64" r="0.63" fill="#ffffff"/><circle cx="77.06" cy="-3.29" r="0.53" fill="#f8eef4"/><circle cx="73.18" cy="-5.76" r="0.94" fill="#e078b8"/><circle cx="65.18" cy="-7.14" r="1.13" fill="#c8b8c0"/><circle cx="5.09" cy="-4.33" r="1.1" fill="#ffffff"/><circle cx="52.85" cy="-2.23" r="0.97" fill="#f0a8d4"/><circle cx="37" cy="-1.91" r="0.81" fill="#ffffff"/><circle cx="37.81" cy="-4.95" r="0.69" fill="#d860a8"/><circle cx="71.11" cy="5.51" r="0.87" fill="#ffffff"/><circle cx="62.23" cy="-5.22" r="1.17" fill="#f0a8d4"/><circle cx="72.62" cy="4.89" r="1.21" fill="#d860a8"/><circle cx="60.65" cy="6.68" r="1.24" fill="#b0a0a8"/><circle cx="65.57" cy="2.02" r="0.86" fill="#ffffff"/><circle cx="25.61" cy="-2.73" r="0.59" fill="#ffffff"/><circle cx="11.78" cy="-3.93" r="0.55" fill="#c8b8c0"/><circle cx="43.35" cy="-4.83" r="1.2" fill="#f8eef4"/><circle cx="32.96" cy="-3.4" r="0.52" fill="#f8eef4"/><circle cx="26.52" cy="-3.47" r="0.89" fill="#ffffff"/><circle cx="35.88" cy="-0.26" r="0.62" fill="#a89098"/><circle cx="5.17" cy="4.83" r="1.03" fill="#ffffff"/><circle cx="43.86" cy="4.48" r="0.6" fill="#ffffff"/><circle cx="75.45" cy="-0.83" r="0.71" fill="#ffffff"/><circle cx="71.94" cy="-5.5" r="0.73" fill="#d860a8"/><circle cx="5.22" cy="2.77" r="0.73" fill="#e078b8"/><circle cx="34.8" cy="0.11" r="0.91" fill="#c8b8c0"/><circle cx="0.95" cy="2.61" r="0.92" fill="#d860a8"/><circle cx="28.49" cy="-5.12" r="0.83" fill="#f8eef4"/><circle cx="44.74" cy="-4.69" r="0.64" fill="#ffffff"/><circle cx="55.52" cy="-3.63" r="0.56" fill="#f0a8d4"/><circle cx="69.19" cy="3.44" r="1.11" fill="#d860a8"/><circle cx="16.64" cy="1.42" r="1.07" fill="#ffffff"/><circle cx="45.63" cy="-3.73" r="0.55" fill="#a89098"/><circle cx="32.18" cy="2.89" r="0.54" fill="#ffffff"/><circle cx="26.58" cy="3.57" r="1.19" fill="#c8b8c0"/><circle cx="7.75" cy="-1.22" r="1.11" fill="#d860a8"/><circle cx="67.86" cy="-3.59" r="0.65" fill="#ffffff"/><circle cx="3.62" cy="2.24" r="0.96" fill="#e078b8"/><circle cx="28.19" cy="4.76" r="1.27" fill="#f0a8d4"/><circle cx="10.09" cy="3.02" r="1.15" fill="#ffffff"/><circle cx="60.71" cy="5.38" r="0.96" fill="#e078b8"/><circle cx="23.22" cy="-4" r="1.08" fill="#c8b8c0"/><circle cx="40.27" cy="0.45" r="0.93" fill="#e078b8"/><circle cx="19.53" cy="-4.65" r="1" fill="#d860a8"/><circle cx="8.7" cy="-3.43" r="1.15" fill="#e078b8"/><circle cx="2.3" cy="4" r="1.09" fill="#f8eef4"/><circle cx="2.16" cy="0.92" r="0.96" fill="#a89098"/><circle cx="19.13" cy="-0.64" r="0.78" fill="#f0a8d4"/><circle cx="55.94" cy="-5.53" r="0.6" fill="#c8b8c0"/><circle cx="45.86" cy="3.25" r="0.59" fill="#f0a8d4"/><circle cx="31.99" cy="-4.7" r="0.97" fill="#ffffff"/><circle cx="12.12" cy="1.03" r="1.1" fill="#d860a8"/><circle cx="73.72" cy="-6.18" r="1.01" fill="#b0a0a8"/><circle cx="46.71" cy="1.24" r="0.53" fill="#e078b8"/><circle cx="60.54" cy="-2.35" r="0.69" fill="#ffffff"/><circle cx="55.82" cy="4.15" r="0.95" fill="#ffffff"/><circle cx="63.48" cy="5.41" r="0.54" fill="#a89098"/><circle cx="12.08" cy="2.54" r="0.78" fill="#b0a0a8"/><circle cx="51.79" cy="-5.35" r="0.59" fill="#d860a8"/><circle cx="6.13" cy="-0.85" r="0.9" fill="#e078b8"/><circle cx="18.14" cy="-0.95" r="0.82" fill="#c8b8c0"/><circle cx="49.49" cy="3.44" r="1.21" fill="#e078b8"/><circle cx="3.44" cy="1.54" r="0.71" fill="#f8eef4"/><circle cx="49.11" cy="3.43" r="0.53" fill="#f0a8d4"/><circle cx="20.07" cy="0.22" r="0.85" fill="#e078b8"/><circle cx="22.91" cy="-1.99" r="1.02" fill="#f0a8d4"/><circle cx="5.44" cy="5.68" r="1.24" fill="#f8eef4"/><circle cx="7.3" cy="1.2" r="1.25" fill="#c8b8c0"/><circle cx="10.33" cy="-5.19" r="0.73" fill="#b0a0a8"/><circle cx="45.2" cy="-2.87" r="1.09" fill="#a89098"/><circle cx="22.88" cy="-0.47" r="1.06" fill="#ffffff"/><circle cx="50.81" cy="-3.27" r="1.07" fill="#c8b8c0"/><circle cx="69.38" cy="-2.91" r="0.88" fill="#f8eef4"/><circle cx="3.18" cy="-1.75" r="0.65" fill="#a89098"/><circle cx="30.27" cy="1.03" r="0.51" fill="#ffffff"/><circle cx="13.28" cy="6.28" r="0.76" fill="#ffffff"/><circle cx="38.59" cy="-3.21" r="1.29" fill="#f8eef4"/><circle cx="5.18" cy="-5.85" r="0.94" fill="#ffffff"/><circle cx="34.63" cy="-6.22" r="0.81" fill="#c8b8c0"/><circle cx="28.03" cy="2.88" r="0.92" fill="#d860a8"/><circle cx="32.85" cy="2.25" r="0.61" fill="#ffffff"/><circle cx="48.19" cy="4.01" r="1.16" fill="#a89098"/><circle cx="8.11" cy="4.83" r="1.24" fill="#c8b8c0"/><circle cx="21.46" cy="1.38" r="1.01" fill="#d860a8"/><circle cx="32.56" cy="-5.25" r="0.83" fill="#a89098"/><circle cx="45.85" cy="-0.03" r="1.27" fill="#d860a8"/><circle cx="32.94" cy="3.81" r="1.2" fill="#f0a8d4"/><circle cx="29.99" cy="-0.57" r="0.87" fill="#ffffff"/><circle cx="23.33" cy="-1.11" r="0.94" fill="#b0a0a8"/><circle cx="50.65" cy="-5.41" r="1.1" fill="#c8b8c0"/><circle cx="30.07" cy="-2.38" r="0.93" fill="#d860a8"/><circle cx="34.3" cy="-1.73" r="0.69" fill="#ffffff"/><circle cx="25.71" cy="3.52" r="1.17" fill="#ffffff"/><circle cx="16.51" cy="-0.94" r="1.23" fill="#e078b8"/><circle cx="2.77" cy="-2.43" r="1.22" fill="#f8eef4"/><circle cx="71.57" cy="3.78" r="0.93" fill="#b0a0a8"/><circle cx="40.59" cy="0.25" r="1.05" fill="#b0a0a8"/><circle cx="36.5" cy="-6.78" r="1.04" fill="#c8b8c0"/><circle cx="73.69" cy="2.27" r="0.92" fill="#f0a8d4"/><circle cx="32.29" cy="0.01" r="1.02" fill="#d860a8"/><circle cx="68.46" cy="7.05" r="0.89" fill="#c8b8c0"/><circle cx="59.81" cy="5.66" r="0.97" fill="#a89098"/><circle cx="58.2" cy="-5.43" r="0.79" fill="#ffffff"/><circle cx="76.04" cy="3.92" r="0.91" fill="#f0a8d4"/><circle cx="51.24" cy="-2.24" r="0.77" fill="#a89098"/><circle cx="69.1" cy="-1.18" r="0.63" fill="#f8eef4"/><circle cx="63.56" cy="-4.55" r="1.21" fill="#b0a0a8"/><circle cx="14.83" cy="1.75" r="0.98" fill="#ffffff"/><circle cx="44.62" cy="1.71" r="1.08" fill="#b0a0a8"/><circle cx="1.63" cy="-4.28" r="1.07" fill="#a89098"/><circle cx="1.1" cy="-1.57" r="1.17" fill="#e078b8"/><circle cx="52.18" cy="-3.33" r="0.9" fill="#a89098"/><circle cx="44.4" cy="4.87" r="1.22" fill="#a89098"/><circle cx="77.48" cy="0.88" r="0.83" fill="#f0a8d4"/><circle cx="11.98" cy="0.26" r="0.91" fill="#e078b8"/><circle cx="8.5" cy="-4.51" r="0.92" fill="#c8b8c0"/><circle cx="47.94" cy="3.54" r="0.55" fill="#e078b8"/><circle cx="53.44" cy="0.88" r="0.62" fill="#ffffff"/><circle cx="28.01" cy="-3.61" r="0.71" fill="#f0a8d4"/><circle cx="66.88" cy="6.98" r="0.55" fill="#ffffff"/><circle cx="35.39" cy="-1.65" r="0.54" fill="#b0a0a8"/><circle cx="45.61" cy="5.76" r="0.85" fill="#ffffff"/><circle cx="19.97" cy="-5.07" r="1.24" fill="#d860a8"/><circle cx="25.01" cy="4.05" r="1.15" fill="#f8eef4"/><circle cx="32.97" cy="-3.34" r="1.21" fill="#f0a8d4"/><circle cx="19.48" cy="-1.25" r="1.07" fill="#ffffff"/><circle cx="32.6" cy="-1.34" r="1.07" fill="#e078b8"/><circle cx="61.76" cy="-3.86" r="0.64" fill="#ffffff"/><circle cx="29.95" cy="-5.83" r="1.21" fill="#b0a0a8"/><circle cx="43.98" cy="-5.13" r="0.93" fill="#b0a0a8"/><circle cx="26.63" cy="1.58" r="1.27" fill="#b0a0a8"/><circle cx="64.31" cy="-2.34" r="0.7" fill="#ffffff"/><circle cx="36.71" cy="-2.3" r="0.85" fill="#f8eef4"/><circle cx="51.88" cy="-1.74" r="0.62" fill="#d860a8"/><circle cx="7.92" cy="-3.11" r="1.17" fill="#d860a8"/><circle cx="43.48" cy="-0.45" r="1.14" fill="#ffffff"/><circle cx="13.04" cy="-2.05" r="1.08" fill="#b0a0a8"/><circle cx="49.2" cy="0.9" r="0.74" fill="#c8b8c0"/><circle cx="39.62" cy="-4.05" r="0.86" fill="#d860a8"/><circle cx="73.25" cy="6.5" r="0.98" fill="#c8b8c0"/><circle cx="45.98" cy="-1.63" r="0.7" fill="#a89098"/><circle cx="17.14" cy="4.63" r="0.6" fill="#a89098"/><circle cx="7.83" cy="4.74" r="1.09" fill="#b0a0a8"/></g>
<path d="M58.8 108.19 L59.83 108.66 L60.86 108.95 L61.89 109.34 L62.92 109.64 L63.95 109.71 L64.98 109.81 L66.01 110.03 L67.04 109.71 L68.07 109.47 L69.1 109.35 L70.13 108.57 L71.16 107.77 L72.19 106.82 L73.22 106.15 L74.25 105.33 L75.28 104.86 L76.31 104.36 L77.34 103.73 L78.37 103.3 L79.4 102.8 L80.43 102.15 L81.46 101.88 L82.49 101.36 L83.52 100.79 L84.55 100.21 L85.58 99.94 L86.61 99.3 L87.64 98.85 L88.67 98.39 L89.7 97.86 L90.73 97.45 L91.76 96.84 L92.79 96.52 L93.82 95.97 L94.85 95.68 L95.88 95.23 L96.91 94.55 L97.94 94.12 L98.97 93.69 L100 93.47 L101.03 92.85 L102.06 92.45 L103.09 91.89 L104.12 91.49 L105.15 90.99 L106.18 90.51 L107.21 90.1 L108.24 89.63 L109.27 89.24 L110.3 88.68 L111.33 88.26 L112.36 87.75 L113.39 87.3 L114.42 86.72 L115.45 86.09 L116.48 85.83 L117.51 85.4 L118.54 84.92 L119.57 84.37 L120.6 83.96 L121.63 83.36 L122.66 83.1 L123.69 82.59 L124.72 82.06 L125.75 81.57 L126.78 81.4 L127.81 81.05 L128.84 80.38 L129.87 80.19 L130.9 79.67 L131.93 79.18 L132.96 78.82 L133.99 78.55 L135.02 78.18 L136.05 77.52 L137.08 77.29 L138.11 76.72 L139.14 76.53 L140.17 76.02 L141.2 75.79 L142.23 75.4 L143.26 74.87 L144.29 74.68 L145.32 74.16 L146.35 73.82 L147.38 73.75 L148.41 73.4 L149.44 73.36 L150.47 73.38 L151.5 73.43 L152.53 73.3 L153.56 73.26 L154.59 73.5 L155.62 73.33 L156.65 73.53 L157.68 73.54 L158.71 73.44 L159.74 73.54 L160.77 73.65 L161.8 73.77 L162.83 73.82 L163.86 73.88 L164.89 73.97 L165.92 74.14 L166.95 74.06 L167.98 74.07 L169.01 74.16 L170.04 73.98 L171.07 73.94 L172.1 74.05 L173.13 73.81 L174.16 73.71 L175.19 73.44 L176.22 73.46 L177.25 73.42 L178.28 73.16 L179.31 73.25 L180.34 73.17 L181.37 72.92 L182.4 73.01 L183.43 72.89 L184.46 72.88 L185.49 72.72 L186.52 72.77 L187.55 72.73 L188.58 72.47 L189.61 72.45 L190.64 72.6 L191.67 72.66 L192.7 72.42 L193.73 72.46 L194.76 72.49 L195.79 72.41 L196.82 72.43 L197.85 72.43 L198.88 72.47 L199.91 72.56 L200.94 72.49 L201.97 72.54 L203 72.68" fill="none" stroke="#d0e2f2" stroke-width="1.0" stroke-linejoin="round" stroke-linecap="round" />
<path d="M58.8 103.48 L59.83 104.06 L60.86 104.53 L61.89 104.84 L62.92 105.25 L63.95 105.81 L64.98 106.01 L66.01 106.35 L67.04 106.73 L68.07 107.05 L69.1 106.97 L70.13 106.84 L71.16 106.22 L72.19 105.81 L73.22 105.25 L74.25 104.96 L75.28 104.31 L76.31 103.91 L77.34 103.57 L78.37 103.23 L79.4 102.68 L80.43 102.2 L81.46 101.75 L82.49 101.44 L83.52 100.9 L84.55 100.61 L85.58 100.11 L86.61 99.39 L87.64 98.9 L88.67 98.56 L89.7 98.05 L90.73 97.66 L91.76 97.11 L92.79 96.66 L93.82 96.33 L94.85 96.11 L95.88 95.58 L96.91 95.25 L97.94 94.92 L98.97 94.57 L100 94.21 L101.03 94 L102.06 93.41 L103.09 93 L104.12 92.92 L105.15 92.53 L106.18 92.19 L107.21 91.64 L108.24 91.42 L109.27 91.03 L110.3 90.44 L111.33 90.22 L112.36 89.88 L113.39 89.46 L114.42 89.05 L115.45 88.62 L116.48 88.27 L117.51 87.89 L118.54 87.5 L119.57 87.32 L120.6 86.9 L121.63 86.73 L122.66 86.16 L123.69 86.08 L124.72 85.67 L125.75 85.39 L126.78 85.02 L127.81 84.66 L128.84 84.2 L129.87 83.66 L130.9 83.51 L131.93 82.97 L132.96 82.64 L133.99 82.39 L135.02 81.98 L136.05 81.59 L137.08 81.38 L138.11 80.91 L139.14 80.48 L140.17 80.13 L141.2 80 L142.23 79.59 L143.26 79.39 L144.29 78.98 L145.32 78.67 L146.35 78.52 L147.38 78.37 L148.41 77.96 L149.44 77.96 L150.47 77.83 L151.5 77.64 L152.53 77.51 L153.56 77.13 L154.59 77.19 L155.62 77.14 L156.65 76.78 L157.68 76.74 L158.71 76.64 L159.74 76.62 L160.77 76.51 L161.8 76.44 L162.83 76.44 L163.86 76.12 L164.89 76.06 L165.92 76.01 L166.95 75.92 L167.98 75.81 L169.01 75.96 L170.04 75.79 L171.07 75.41 L172.1 75.38 L173.13 75.17 L174.16 75 L175.19 74.85 L176.22 74.78 L177.25 74.6 L178.28 74.37 L179.31 74.18 L180.34 74.07 L181.37 73.87 L182.4 73.86 L183.43 73.77 L184.46 73.54 L185.49 73.32 L186.52 73.23 L187.55 73.18 L188.58 73.15 L189.61 73.12 L190.64 72.92 L191.67 72.99 L192.7 72.89 L193.73 72.79 L194.76 72.74 L195.79 72.75 L196.82 72.78 L197.85 72.67 L198.88 72.73 L199.91 72.64 L200.94 72.56 L201.97 72.63 L203 72.66" fill="none" stroke="#f0d4e0" stroke-width="1.0" stroke-linejoin="round" stroke-linecap="round" />
<path d="M58.8 110.17 L59.83 110.66 L60.86 111 L61.89 111.45 L62.92 111.75 L63.95 111.79 L64.98 111.98 L66.01 111.76 L67.04 111.24 L68.07 110.86 L69.1 110.22 L70.13 109.68 L71.16 108.7 L72.19 107.84 L73.22 106.92 L74.25 106.05 L75.28 105.3 L76.31 104.57 L77.34 103.83 L78.37 103.41 L79.4 102.7 L80.43 102.22 L81.46 101.89 L82.49 101.15 L83.52 100.64 L84.55 100.12 L85.58 99.83 L86.61 99.1 L87.64 98.53 L88.67 98.26 L89.7 97.55 L90.73 97.28 L91.76 96.75 L92.79 96.34 L93.82 95.91 L94.85 95.34 L95.88 94.94 L96.91 94.24 L97.94 93.99 L98.97 93.44 L100 93.02 L101.03 92.35 L102.06 92.06 L103.09 91.63 L104.12 90.87 L105.15 90.46 L106.18 90.03 L107.21 89.6 L108.24 88.91 L109.27 88.37 L110.3 87.85 L111.33 87.42 L112.36 86.92 L113.39 86.26 L114.42 85.72 L115.45 85.21 L116.48 84.69 L117.51 84.21 L118.54 83.61 L119.57 83.25 L120.6 82.91 L121.63 82.27 L122.66 81.9 L123.69 81.26 L124.72 80.97 L125.75 80.57 L126.78 80.14 L127.81 79.71 L128.84 79.32 L129.87 78.98 L130.9 78.66 L131.93 78.04 L132.96 77.63 L133.99 77.42 L135.02 77.07 L136.05 76.54 L137.08 76.1 L138.11 75.77 L139.14 75.2 L140.17 74.8 L141.2 74.32 L142.23 73.96 L143.26 73.42 L144.29 73.02 L145.32 72.83 L146.35 72.61 L147.38 72.18 L148.41 72.13 L149.44 71.98 L150.47 72.12 L151.5 72.08 L152.53 72.04 L153.56 72.06 L154.59 72.03 L155.62 72.19 L156.65 72.21 L157.68 72.22 L158.71 72.39 L159.74 72.52 L160.77 72.81 L161.8 72.77 L162.83 73.16 L163.86 73.13 L164.89 73.29 L165.92 73.38 L166.95 73.6 L167.98 73.68 L169.01 73.64 L170.04 73.62 L171.07 73.66 L172.1 73.63 L173.13 73.4 L174.16 73.41 L175.19 73.39 L176.22 73.16 L177.25 73.02 L178.28 72.95 L179.31 73.03 L180.34 72.95 L181.37 72.97 L182.4 72.88 L183.43 72.64 L184.46 72.57 L185.49 72.55 L186.52 72.49 L187.55 72.62 L188.58 72.63 L189.61 72.62 L190.64 72.4 L191.67 72.56 L192.7 72.37 L193.73 72.38 L194.76 72.46 L195.79 72.26 L196.82 72.28 L197.85 72.53 L198.88 72.39 L199.91 72.45 L200.94 72.55 L201.97 72.62 L203 72.45" fill="none" stroke="#9cc4ea" stroke-width="1.0" stroke-linejoin="round" stroke-linecap="round" />
<path d="M58.8 102.75 L59.83 103.24 L60.86 103.73 L61.89 104.17 L62.92 104.82 L63.95 105.41 L64.98 105.68 L66.01 106.15 L67.04 106.4 L68.07 106.77 L69.1 107.08 L70.13 106.88 L71.16 106.71 L72.19 106.25 L73.22 105.55 L74.25 105.35 L75.28 104.66 L76.31 104.26 L77.34 103.78 L78.37 103.19 L79.4 102.86 L80.43 102.4 L81.46 102 L82.49 101.39 L83.52 101.07 L84.55 100.64 L85.58 100.04 L86.61 99.47 L87.64 98.83 L88.67 98.44 L89.7 97.93 L90.73 97.61 L91.76 97.19 L92.79 96.78 L93.82 96.3 L94.85 96.09 L95.88 95.75 L96.91 95.29 L97.94 95.19 L98.97 94.8 L100 94.33 L101.03 94.25 L102.06 93.69 L103.09 93.42 L104.12 93.21 L105.15 92.84 L106.18 92.49 L107.21 92.17 L108.24 91.76 L109.27 91.35 L110.3 90.95 L111.33 90.57 L112.36 90.42 L113.39 90.09 L114.42 89.68 L115.45 89.4 L116.48 88.96 L117.51 88.63 L118.54 88.36 L119.57 88.23 L120.6 87.7 L121.63 87.56 L122.66 87.21 L123.69 87.08 L124.72 86.66 L125.75 86.35 L126.78 86.06 L127.81 85.79 L128.84 85.55 L129.87 85.11 L130.9 84.94 L131.93 84.4 L132.96 84.12 L133.99 83.75 L135.02 83.43 L136.05 83.29 L137.08 82.93 L138.11 82.42 L139.14 82.07 L140.17 81.8 L141.2 81.59 L142.23 81.31 L143.26 81 L144.29 80.66 L145.32 80.26 L146.35 80.07 L147.38 79.75 L148.41 79.62 L149.44 79.41 L150.47 79.09 L151.5 78.91 L152.53 78.89 L153.56 78.49 L154.59 78.54 L155.62 78.4 L156.65 78.26 L157.68 77.94 L158.71 77.85 L159.74 77.72 L160.77 77.61 L161.8 77.58 L162.83 77.37 L163.86 77.13 L164.89 77.19 L165.92 76.96 L166.95 76.87 L167.98 76.77 L169.01 76.4 L170.04 76.47 L171.07 76.27 L172.1 76.04 L173.13 75.86 L174.16 75.66 L175.19 75.39 L176.22 75.3 L177.25 74.97 L178.28 74.93 L179.31 74.8 L180.34 74.57 L181.37 74.45 L182.4 74.41 L183.43 74.23 L184.46 73.85 L185.49 73.89 L186.52 73.7 L187.55 73.4 L188.58 73.36 L189.61 73.21 L190.64 73.07 L191.67 73.12 L192.7 73.16 L193.73 72.92 L194.76 73.03 L195.79 72.93 L196.82 72.72 L197.85 72.89 L198.88 72.77 L199.91 72.83 L200.94 72.73 L201.97 72.71 L203 72.55" fill="none" stroke="#eab8cc" stroke-width="1.0" stroke-linejoin="round" stroke-linecap="round" />
<path d="M58.8 106.33 L59.83 106.74 L60.86 107.07 L61.89 107.27 L62.92 107.67 L63.95 107.84 L64.98 107.94 L66.01 108.06 L67.04 108.13 L68.07 108.15 L69.1 107.96 L70.13 107.57 L71.16 106.74 L72.19 105.94 L73.22 105.35 L74.25 104.92 L75.28 104.34 L76.31 103.92 L77.34 103.57 L78.37 103.04 L79.4 102.55 L80.43 102.35 L81.46 101.87 L82.49 101.33 L83.52 100.89 L84.55 100.46 L85.58 99.97 L86.61 99.34 L87.64 98.75 L88.67 98.31 L89.7 98.01 L90.73 97.37 L91.76 97.03 L92.79 96.53 L93.82 96.12 L94.85 95.69 L95.88 95.35 L96.91 94.86 L97.94 94.4 L98.97 94.01 L100 93.6 L101.03 93.27 L102.06 92.71 L103.09 92.26 L104.12 91.95 L105.15 91.5 L106.18 91.15 L107.21 90.52 L108.24 90.18 L109.27 89.74 L110.3 89.18 L111.33 89.02 L112.36 88.36 L113.39 87.88 L114.42 87.56 L115.45 87.04 L116.48 86.75 L117.51 86.24 L118.54 85.75 L119.57 85.3 L120.6 85.09 L121.63 84.53 L122.66 84.27 L123.69 83.75 L124.72 83.47 L125.75 82.86 L126.78 82.43 L127.81 82.02 L128.84 81.78 L129.87 81.3 L130.9 80.8 L131.93 80.3 L132.96 80.07 L133.99 79.74 L135.02 79.22 L136.05 78.64 L137.08 78.25 L138.11 77.88 L139.14 77.54 L140.17 77.14 L141.2 76.8 L142.23 76.63 L143.26 76.37 L144.29 75.86 L145.32 75.82 L146.35 75.42 L147.38 75.29 L148.41 75.14 L149.44 75.02 L150.47 74.67 L151.5 74.69 L152.53 74.73 L153.56 74.79 L154.59 74.49 L155.62 74.51 L156.65 74.65 L157.68 74.41 L158.71 74.49 L159.74 74.49 L160.77 74.61 L161.8 74.7 L162.83 74.48 L163.86 74.66 L164.89 74.67 L165.92 74.72 L166.95 74.64 L167.98 74.73 L169.01 74.52 L170.04 74.46 L171.07 74.32 L172.1 74.37 L173.13 74.16 L174.16 73.98 L175.19 73.83 L176.22 73.87 L177.25 73.72 L178.28 73.64 L179.31 73.44 L180.34 73.37 L181.37 73.17 L182.4 73.24 L183.43 72.94 L184.46 72.98 L185.49 72.98 L186.52 72.88 L187.55 72.64 L188.58 72.63 L189.61 72.76 L190.64 72.66 L191.67 72.71 L192.7 72.68 L193.73 72.54 L194.76 72.66 L195.79 72.61 L196.82 72.49 L197.85 72.51 L198.88 72.43 L199.91 72.54 L200.94 72.72 L201.97 72.47 L203 72.62" fill="none" stroke="#90dcc6" stroke-width="1.0" stroke-linejoin="round" stroke-linecap="round" />
<path d="M58.8 101.85 L59.83 102.35 L60.86 103.05 L61.89 103.53 L62.92 104.11 L63.95 104.72 L64.98 105.38 L66.01 105.85 L67.04 106.13 L68.07 106.59 L69.1 107.12 L70.13 107.02 L71.16 106.93 L72.19 106.52 L73.22 106.16 L74.25 105.61 L75.28 105.08 L76.31 104.41 L77.34 103.79 L78.37 103.29 L79.4 102.78 L80.43 102.53 L81.46 101.84 L82.49 101.33 L83.52 101.13 L84.55 100.4 L85.58 100.08 L86.61 99.32 L87.64 98.91 L88.67 98.34 L89.7 98.05 L90.73 97.56 L91.76 97.16 L92.79 96.83 L93.82 96.52 L94.85 96.03 L95.88 95.79 L96.91 95.45 L97.94 95.08 L98.97 95.02 L100 94.67 L101.03 94.45 L102.06 93.99 L103.09 93.8 L104.12 93.49 L105.15 93.28 L106.18 92.78 L107.21 92.54 L108.24 92.25 L109.27 91.79 L110.3 91.6 L111.33 91.32 L112.36 90.91 L113.39 90.66 L114.42 90.32 L115.45 89.9 L116.48 89.65 L117.51 89.57 L118.54 89.12 L119.57 88.92 L120.6 88.59 L121.63 88.4 L122.66 88.16 L123.69 88.16 L124.72 87.85 L125.75 87.65 L126.78 87.42 L127.81 87.05 L128.84 86.89 L129.87 86.5 L130.9 86.2 L131.93 86.09 L132.96 85.8 L133.99 85.53 L135.02 85.11 L136.05 84.89 L137.08 84.46 L138.11 84.29 L139.14 83.92 L140.17 83.39 L141.2 83.27 L142.23 82.74 L143.26 82.42 L144.29 82.31 L145.32 81.9 L146.35 81.69 L147.38 81.46 L148.41 81.02 L149.44 80.98 L150.47 80.6 L151.5 80.41 L152.53 80.15 L153.56 80.05 L154.59 79.83 L155.62 79.48 L156.65 79.22 L157.68 79.08 L158.71 78.93 L159.74 78.65 L160.77 78.5 L161.8 78.52 L162.83 78.34 L163.86 78.26 L164.89 78.1 L165.92 77.91 L166.95 77.6 L167.98 77.37 L169.01 77.23 L170.04 77.09 L171.07 76.91 L172.1 76.71 L173.13 76.45 L174.16 76.38 L175.19 76 L176.22 75.84 L177.25 75.76 L178.28 75.54 L179.31 75.19 L180.34 74.98 L181.37 74.97 L182.4 74.55 L183.43 74.4 L184.46 74.35 L185.49 74.18 L186.52 73.9 L187.55 73.71 L188.58 73.6 L189.61 73.63 L190.64 73.42 L191.67 73.46 L192.7 73.3 L193.73 73.28 L194.76 72.92 L195.79 72.9 L196.82 72.78 L197.85 72.85 L198.88 72.76 L199.91 72.62 L200.94 72.71 L201.97 72.53 L203 72.54" fill="none" stroke="#dc98b0" stroke-width="1.0" stroke-linejoin="round" stroke-linecap="round" />
<path d="M58.8 104.54 L59.83 105.07 L60.86 105.32 L61.89 105.6 L62.92 105.84 L63.95 106.24 L64.98 106.58 L66.01 106.86 L67.04 107.16 L68.07 107.28 L69.1 107.08 L70.13 106.65 L71.16 105.96 L72.19 105.3 L73.22 104.79 L74.25 104.52 L75.28 104.08 L76.31 103.62 L77.34 103.21 L78.37 102.8 L79.4 102.61 L80.43 102.31 L81.46 101.93 L82.49 101.4 L83.52 101.04 L84.55 100.66 L85.58 100.13 L86.61 99.54 L87.64 98.96 L88.67 98.5 L89.7 97.93 L90.73 97.5 L91.76 97.24 L92.79 96.92 L93.82 96.39 L94.85 95.95 L95.88 95.54 L96.91 95.18 L97.94 94.89 L98.97 94.39 L100 94.14 L101.03 93.49 L102.06 93.12 L103.09 92.77 L104.12 92.33 L105.15 92.05 L106.18 91.62 L107.21 91.24 L108.24 90.73 L109.27 90.15 L110.3 89.9 L111.33 89.49 L112.36 89.08 L113.39 88.62 L114.42 88.35 L115.45 88.02 L116.48 87.38 L117.51 87.15 L118.54 86.67 L119.57 86.32 L120.6 86.04 L121.63 85.66 L122.66 85.17 L123.69 84.63 L124.72 84.44 L125.75 83.8 L126.78 83.44 L127.81 83.15 L128.84 82.57 L129.87 82.12 L130.9 81.9 L131.93 81.47 L132.96 80.86 L133.99 80.47 L135.02 80.03 L136.05 79.58 L137.08 79.23 L138.11 79.07 L139.14 78.45 L140.17 78.17 L141.2 77.85 L142.23 77.52 L143.26 77.37 L144.29 77.17 L145.32 76.94 L146.35 76.64 L147.38 76.48 L148.41 76.05 L149.44 75.98 L150.47 76.06 L151.5 75.69 L152.53 75.66 L153.56 75.65 L154.59 75.52 L155.62 75.54 L156.65 75.32 L157.68 75.33 L158.71 75.5 L159.74 75.21 L160.77 75.41 L161.8 75.15 L162.83 75.35 L163.86 75.22 L164.89 75.18 L165.92 75.01 L166.95 74.94 L167.98 75.09 L169.01 74.84 L170.04 74.74 L171.07 74.82 L172.1 74.71 L173.13 74.33 L174.16 74.47 L175.19 74.2 L176.22 74.02 L177.25 73.81 L178.28 73.77 L179.31 73.83 L180.34 73.5 L181.37 73.34 L182.4 73.23 L183.43 73.11 L184.46 73.07 L185.49 73.14 L186.52 72.8 L187.55 72.75 L188.58 72.91 L189.61 72.87 L190.64 72.82 L191.67 72.57 L192.7 72.58 L193.73 72.75 L194.76 72.6 L195.79 72.66 L196.82 72.54 L197.85 72.45 L198.88 72.55 L199.91 72.67 L200.94 72.68 L201.97 72.62 L203 72.59" fill="none" stroke="#5cb868" stroke-width="1.05" stroke-linejoin="round" stroke-linecap="round" />
<path d="M58.8 101.32 L59.83 101.83 L60.86 102.43 L61.89 103.19 L62.92 103.73 L63.95 104.5 L64.98 105.17 L66.01 105.69 L67.04 106 L68.07 106.68 L69.1 107.03 L70.13 107.09 L71.16 107.1 L72.19 106.78 L73.22 106.26 L74.25 106.01 L75.28 105.2 L76.31 104.69 L77.34 103.91 L78.37 103.36 L79.4 103.11 L80.43 102.58 L81.46 102.14 L82.49 101.55 L83.52 101 L84.55 100.55 L85.58 99.83 L86.61 99.44 L87.64 98.89 L88.67 98.3 L89.7 97.96 L90.73 97.45 L91.76 97.11 L92.79 96.71 L93.82 96.36 L94.85 96.06 L95.88 95.84 L96.91 95.68 L97.94 95.42 L98.97 95.16 L100 94.9 L101.03 94.48 L102.06 94.44 L103.09 93.98 L104.12 93.68 L105.15 93.53 L106.18 93.32 L107.21 92.91 L108.24 92.69 L109.27 92.26 L110.3 92.15 L111.33 91.68 L112.36 91.39 L113.39 91.1 L114.42 90.91 L115.45 90.65 L116.48 90.25 L117.51 89.98 L118.54 89.82 L119.57 89.46 L120.6 89.39 L121.63 89.33 L122.66 89.13 L123.69 88.73 L124.72 88.76 L125.75 88.41 L126.78 88.37 L127.81 87.97 L128.84 87.7 L129.87 87.58 L130.9 87.45 L131.93 87.09 L132.96 86.98 L133.99 86.69 L135.02 86.33 L136.05 86.03 L137.08 85.78 L138.11 85.41 L139.14 85.06 L140.17 84.8 L141.2 84.55 L142.23 84.16 L143.26 83.73 L144.29 83.45 L145.32 83.2 L146.35 82.99 L147.38 82.57 L148.41 82.27 L149.44 82.07 L150.47 81.79 L151.5 81.44 L152.53 81.33 L153.56 81.18 L154.59 80.81 L155.62 80.62 L156.65 80.4 L157.68 80.17 L158.71 79.98 L159.74 79.62 L160.77 79.49 L161.8 79.12 L162.83 79.16 L163.86 78.82 L164.89 78.66 L165.92 78.59 L166.95 78.21 L167.98 77.99 L169.01 77.97 L170.04 77.69 L171.07 77.32 L172.1 77.08 L173.13 76.95 L174.16 76.62 L175.19 76.63 L176.22 76.21 L177.25 76.01 L178.28 75.82 L179.31 75.65 L180.34 75.41 L181.37 75.27 L182.4 75.08 L183.43 74.81 L184.46 74.52 L185.49 74.6 L186.52 74.33 L187.55 73.97 L188.58 73.9 L189.61 73.84 L190.64 73.76 L191.67 73.35 L192.7 73.22 L193.73 73.26 L194.76 73.15 L195.79 73.22 L196.82 73.11 L197.85 72.88 L198.88 72.83 L199.91 72.82 L200.94 72.84 L201.97 72.57 L203 72.57" fill="none" stroke="#d84c56" stroke-width="1.3" stroke-linejoin="round" stroke-linecap="round" />
<path d="M58.8 112.61 L59.83 113.17 L60.86 113.32 L61.89 113.89 L62.92 114.05 L63.95 114.23 L64.98 114.01 L66.01 113.67 L67.04 113.14 L68.07 112.56 L69.1 111.7 L70.13 110.73 L71.16 109.99 L72.19 108.85 L73.22 107.72 L74.25 106.58 L75.28 105.68 L76.31 105.05 L77.34 104.11 L78.37 103.58 L79.4 103 L80.43 102.33 L81.46 101.88 L82.49 101.35 L83.52 100.78 L84.55 100.19 L85.58 99.5 L86.61 98.93 L87.64 98.51 L88.67 97.96 L89.7 97.41 L90.73 97.1 L91.76 96.41 L92.79 96.1 L93.82 95.65 L94.85 94.91 L95.88 94.66 L96.91 94 L97.94 93.44 L98.97 92.92 L100 92.36 L101.03 91.99 L102.06 91.44 L103.09 91.06 L104.12 90.52 L105.15 89.76 L106.18 89.33 L107.21 88.78 L108.24 88.16 L109.27 87.61 L110.3 87.02 L111.33 86.55 L112.36 85.83 L113.39 85.16 L114.42 84.59 L115.45 84.09 L116.48 83.56 L117.51 82.92 L118.54 82.53 L119.57 81.85 L120.6 81.47 L121.63 80.94 L122.66 80.32 L123.69 80 L124.72 79.43 L125.75 79.04 L126.78 78.66 L127.81 78.31 L128.84 77.9 L129.87 77.41 L130.9 77.25 L131.93 76.89 L132.96 76.39 L133.99 76.02 L135.02 75.52 L136.05 75.3 L137.08 74.81 L138.11 74.24 L139.14 73.98 L140.17 73.56 L141.2 72.85 L142.23 72.49 L143.26 71.81 L144.29 71.3 L145.32 71.09 L146.35 70.66 L147.38 70.53 L148.41 70.32 L149.44 70.15 L150.47 70.34 L151.5 70.55 L152.53 70.55 L153.56 70.65 L154.59 70.81 L155.62 70.76 L156.65 70.87 L157.68 71.02 L158.71 71.28 L159.74 71.31 L160.77 71.51 L161.8 71.94 L162.83 72.08 L163.86 72.2 L164.89 72.58 L165.92 72.77 L166.95 72.84 L167.98 73.11 L169.01 73.17 L170.04 73.19 L171.07 73.05 L172.1 72.92 L173.13 73.05 L174.16 72.99 L175.19 72.8 L176.22 72.78 L177.25 72.77 L178.28 72.62 L179.31 72.71 L180.34 72.63 L181.37 72.54 L182.4 72.42 L183.43 72.52 L184.46 72.42 L185.49 72.52 L186.52 72.34 L187.55 72.4 L188.58 72.33 L189.61 72.38 L190.64 72.41 L191.67 72.24 L192.7 72.2 L193.73 72.3 L194.76 72.21 L195.79 72.3 L196.82 72.22 L197.85 72.24 L198.88 72.41 L199.91 72.57 L200.94 72.61 L201.97 72.55 L203 72.57" fill="none" stroke="#3a4acc" stroke-width="1.6" stroke-linejoin="round" stroke-linecap="round" />
<path d="M211.1 107.41 L212.14 106.82 L213.18 106.23 L214.23 105.95 L215.27 105.32 L216.31 105.15 L217.35 104.5 L218.39 103.95 L219.44 103.34 L220.48 102.98 L221.52 102.15 L222.56 101.65 L223.61 101.06 L224.65 100.39 L225.69 99.83 L226.73 99.51 L227.77 98.93 L228.82 98.45 L229.86 98.13 L230.9 97.62 L231.94 97.64 L232.98 97.55 L234.03 97.31 L235.07 97.3 L236.11 97.42 L237.15 97.17 L238.2 97.2 L239.24 96.85 L240.28 96.77 L241.32 96.32 L242.36 96.01 L243.41 95.58 L244.45 95.32 L245.49 94.86 L246.53 94.37 L247.57 94 L248.62 93.5 L249.66 93.19 L250.7 92.6 L251.74 92.27 L252.79 91.86 L253.83 91.37 L254.87 90.83 L255.91 90.42 L256.95 90.11 L258 89.51 L259.04 89.2 L260.08 88.63 L261.12 88.24 L262.17 87.67 L263.21 87.07 L264.25 86.38 L265.29 85.66 L266.33 85.2 L267.38 84.66 L268.42 84.15 L269.46 83.39 L270.5 82.85 L271.54 82.58 L272.59 81.99 L273.63 81.38 L274.67 80.91 L275.71 80.18 L276.75 79.75 L277.8 79.23 L278.84 78.67 L279.88 77.99 L280.92 77.44 L281.97 77.05 L283.01 76.61 L284.05 75.87 L285.09 75.34 L286.13 74.89 L287.18 74.64 L288.22 74.08 L289.26 73.66 L290.3 73.39 L291.35 72.85 L292.39 72.33 L293.43 72.07 L294.47 71.49 L295.51 71.19 L296.56 70.94 L297.6 70.46 L298.64 70.2 L299.68 70.22 L300.72 70.14 L301.77 70.36 L302.81 70.16 L303.85 70.45 L304.89 70.43 L305.94 70.66 L306.98 70.67 L308.02 70.87 L309.06 70.91 L310.1 71.03 L311.15 71.23 L312.19 71.46 L313.23 71.44 L314.27 71.52 L315.31 71.68 L316.36 71.69 L317.4 71.85 L318.44 72.02 L319.48 72.09 L320.52 72.19 L321.57 72.18 L322.61 72.17 L323.65 72.22 L324.69 72.36 L325.74 72.36 L326.78 72.5 L327.82 72.42 L328.86 72.58 L329.9 72.54 L330.95 72.56 L331.99 72.59 L333.03 72.52 L334.07 72.49 L335.12 72.46 L336.16 72.38 L337.2 72.6 L338.24 72.51 L339.28 72.39 L340.33 72.64 L341.37 72.53 L342.41 72.54 L343.45 72.49 L344.49 72.39 L345.54 72.66 L346.58 72.41 L347.62 72.46 L348.66 72.65 L349.71 72.39 L350.75 72.5 L351.79 72.5 L352.83 72.43 L353.87 72.63 L354.92 72.48 L355.96 72.35 L357 72.49" fill="none" stroke="#d0e2f2" stroke-width="1.0" stroke-linejoin="round" stroke-linecap="round" />
<path d="M211.1 106.43 L212.14 106.36 L213.18 106.23 L214.23 106.16 L215.27 105.82 L216.31 105.87 L217.35 105.44 L218.39 105.04 L219.44 104.48 L220.48 103.94 L221.52 103.29 L222.56 102.82 L223.61 102.05 L224.65 101.69 L225.69 100.77 L226.73 100.4 L227.77 99.55 L228.82 98.97 L229.86 98.74 L230.9 98.38 L231.94 98.3 L232.98 98.14 L234.03 98.11 L235.07 97.9 L236.11 98.07 L237.15 97.99 L238.2 98 L239.24 97.51 L240.28 97.29 L241.32 97.19 L242.36 96.96 L243.41 96.47 L244.45 96.16 L245.49 95.63 L246.53 95.16 L247.57 94.77 L248.62 94.42 L249.66 93.9 L250.7 93.65 L251.74 93.47 L252.79 93.02 L253.83 92.76 L254.87 92.37 L255.91 92.06 L256.95 91.8 L258 91.47 L259.04 91.16 L260.08 90.62 L261.12 90.13 L262.17 89.75 L263.21 89.23 L264.25 88.83 L265.29 88.45 L266.33 87.99 L267.38 87.42 L268.42 86.97 L269.46 86.54 L270.5 86.15 L271.54 85.84 L272.59 85.33 L273.63 85.07 L274.67 84.5 L275.71 83.94 L276.75 83.47 L277.8 82.86 L278.84 82.58 L279.88 82.11 L280.92 81.53 L281.97 81.17 L283.01 80.57 L284.05 80.11 L285.09 79.68 L286.13 79.24 L287.18 78.95 L288.22 78.55 L289.26 78.18 L290.3 77.61 L291.35 77.42 L292.39 76.97 L293.43 76.6 L294.47 76.31 L295.51 75.96 L296.56 75.56 L297.6 75.34 L298.64 75.21 L299.68 75.08 L300.72 75.01 L301.77 74.69 L302.81 74.8 L303.85 74.69 L304.89 74.58 L305.94 74.59 L306.98 74.28 L308.02 74.43 L309.06 74.45 L310.1 74.2 L311.15 74.32 L312.19 74.39 L313.23 74.16 L314.27 74.3 L315.31 74.29 L316.36 74.13 L317.4 74.02 L318.44 74.02 L319.48 74.18 L320.52 74.04 L321.57 73.99 L322.61 74.01 L323.65 74.13 L324.69 73.89 L325.74 73.78 L326.78 74.02 L327.82 73.79 L328.86 73.77 L329.9 73.9 L330.95 73.65 L331.99 73.54 L333.03 73.74 L334.07 73.5 L335.12 73.45 L336.16 73.63 L337.2 73.37 L338.24 73.54 L339.28 73.33 L340.33 73.29 L341.37 73.23 L342.41 73.29 L343.45 73.26 L344.49 73.17 L345.54 73.16 L346.58 73.05 L347.62 73.16 L348.66 73.14 L349.71 73.04 L350.75 73.02 L351.79 72.75 L352.83 72.77 L353.87 72.71 L354.92 72.66 L355.96 72.86 L357 72.8" fill="none" stroke="#f0d4e0" stroke-width="1.0" stroke-linejoin="round" stroke-linecap="round" />
<path d="M211.1 106.9 L212.14 105.86 L213.18 104.9 L214.23 104.4 L215.27 103.86 L216.31 103.71 L217.35 103.08 L218.39 102.65 L219.44 102.42 L220.48 101.77 L221.52 101.53 L222.56 100.9 L223.61 100.58 L224.65 100 L225.69 99.83 L226.73 99.29 L227.77 98.91 L228.82 98.67 L229.86 98.37 L230.9 98.05 L231.94 97.88 L232.98 97.93 L234.03 97.69 L235.07 97.87 L236.11 97.67 L237.15 97.56 L238.2 97.52 L239.24 97.31 L240.28 97.12 L241.32 96.82 L242.36 96.31 L243.41 95.83 L244.45 95.33 L245.49 94.89 L246.53 94.49 L247.57 93.91 L248.62 93.54 L249.66 93 L250.7 92.44 L251.74 92.01 L252.79 91.77 L253.83 91.23 L254.87 90.76 L255.91 90.36 L256.95 90.01 L258 89.41 L259.04 88.93 L260.08 88.44 L261.12 87.8 L262.17 87.41 L263.21 86.82 L264.25 86.23 L265.29 85.6 L266.33 84.98 L267.38 84.45 L268.42 83.72 L269.46 83.41 L270.5 82.61 L271.54 82.31 L272.59 81.58 L273.63 81.23 L274.67 80.52 L275.71 79.91 L276.75 79.5 L277.8 79.04 L278.84 78.49 L279.88 77.95 L280.92 77.42 L281.97 76.59 L283.01 76.15 L284.05 75.54 L285.09 75.24 L286.13 74.67 L287.18 74.29 L288.22 73.86 L289.26 73.48 L290.3 72.95 L291.35 72.58 L292.39 72.06 L293.43 71.52 L294.47 71.38 L295.51 70.75 L296.56 70.36 L297.6 70.24 L298.64 69.83 L299.68 69.8 L300.72 69.58 L301.77 69.69 L302.81 69.91 L303.85 69.81 L304.89 70.09 L305.94 70.36 L306.98 70.28 L308.02 70.58 L309.06 70.75 L310.1 70.87 L311.15 71.06 L312.19 71.18 L313.23 71.11 L314.27 71.3 L315.31 71.53 L316.36 71.79 L317.4 71.68 L318.44 71.9 L319.48 71.86 L320.52 72.17 L321.57 72.15 L322.61 72.25 L323.65 72.37 L324.69 72.27 L325.74 72.5 L326.78 72.56 L327.82 72.6 L328.86 72.44 L329.9 72.43 L330.95 72.42 L331.99 72.64 L333.03 72.5 L334.07 72.48 L335.12 72.52 L336.16 72.57 L337.2 72.45 L338.24 72.46 L339.28 72.58 L340.33 72.59 L341.37 72.44 L342.41 72.38 L343.45 72.63 L344.49 72.57 L345.54 72.53 L346.58 72.47 L347.62 72.64 L348.66 72.48 L349.71 72.42 L350.75 72.38 L351.79 72.46 L352.83 72.53 L353.87 72.46 L354.92 72.63 L355.96 72.55 L357 72.49" fill="none" stroke="#9cc4ea" stroke-width="1.0" stroke-linejoin="round" stroke-linecap="round" />
<path d="M211.1 104.67 L212.14 104.27 L213.18 104.12 L214.23 104.14 L215.27 104.23 L216.31 104.34 L217.35 104.38 L218.39 103.98 L219.44 103.88 L220.48 103.42 L221.52 103.22 L222.56 102.6 L223.61 102.32 L224.65 101.87 L225.69 101.48 L226.73 100.85 L227.77 100.4 L228.82 99.94 L229.86 99.74 L230.9 99.51 L231.94 99.23 L232.98 99.24 L234.03 99.21 L235.07 99.42 L236.11 99.28 L237.15 99.29 L238.2 99.1 L239.24 99.01 L240.28 98.79 L241.32 98.43 L242.36 97.87 L243.41 97.6 L244.45 97.1 L245.49 96.32 L246.53 96.02 L247.57 95.4 L248.62 94.97 L249.66 94.72 L250.7 94.42 L251.74 94.13 L252.79 94 L253.83 93.65 L254.87 93.37 L255.91 93.05 L256.95 92.95 L258 92.63 L259.04 92.4 L260.08 92.03 L261.12 91.6 L262.17 91.27 L263.21 90.96 L264.25 90.58 L265.29 90.44 L266.33 90 L267.38 89.55 L268.42 89.37 L269.46 89.03 L270.5 88.53 L271.54 88.39 L272.59 87.87 L273.63 87.7 L274.67 87.02 L275.71 86.63 L276.75 86.17 L277.8 85.92 L278.84 85.47 L279.88 84.96 L280.92 84.4 L281.97 84.05 L283.01 83.7 L284.05 83.09 L285.09 82.95 L286.13 82.53 L287.18 82.17 L288.22 81.72 L289.26 81.32 L290.3 81.07 L291.35 80.51 L292.39 80.19 L293.43 79.82 L294.47 79.54 L295.51 79.43 L296.56 78.91 L297.6 78.84 L298.64 78.49 L299.68 78.43 L300.72 78.19 L301.77 77.96 L302.81 77.81 L303.85 77.38 L304.89 77.26 L305.94 77.11 L306.98 76.97 L308.02 76.89 L309.06 76.81 L310.1 76.63 L311.15 76.56 L312.19 76.35 L313.23 76.13 L314.27 76.05 L315.31 76.02 L316.36 75.94 L317.4 75.72 L318.44 75.63 L319.48 75.62 L320.52 75.42 L321.57 75.55 L322.61 75.21 L323.65 75.33 L324.69 75.2 L325.74 75.04 L326.78 75.07 L327.82 74.96 L328.86 75.02 L329.9 74.91 L330.95 74.74 L331.99 74.74 L333.03 74.66 L334.07 74.36 L335.12 74.48 L336.16 74.41 L337.2 74.39 L338.24 74.25 L339.28 74.08 L340.33 73.96 L341.37 74.03 L342.41 73.83 L343.45 73.93 L344.49 73.8 L345.54 73.79 L346.58 73.56 L347.62 73.46 L348.66 73.55 L349.71 73.4 L350.75 73.24 L351.79 73.21 L352.83 73.1 L353.87 73.09 L354.92 72.98 L355.96 72.84 L357 72.97" fill="none" stroke="#eab8cc" stroke-width="1.0" stroke-linejoin="round" stroke-linecap="round" />
<path d="M211.1 108.42 L212.14 108.01 L213.18 107.48 L214.23 107.12 L215.27 106.94 L216.31 106.55 L217.35 105.92 L218.39 105.14 L219.44 104.6 L220.48 103.84 L221.52 103.04 L222.56 102.33 L223.61 101.56 L224.65 100.9 L225.69 100.2 L226.73 99.55 L227.77 98.62 L228.82 98.16 L229.86 97.8 L230.9 97.39 L231.94 97.18 L232.98 97.16 L234.03 96.81 L235.07 96.95 L236.11 96.88 L237.15 96.81 L238.2 96.61 L239.24 96.52 L240.28 96.14 L241.32 95.99 L242.36 95.6 L243.41 95.49 L244.45 95.12 L245.49 94.68 L246.53 94.4 L247.57 93.93 L248.62 93.59 L249.66 93.09 L250.7 92.91 L251.74 92.48 L252.79 92.08 L253.83 91.45 L254.87 91.24 L255.91 90.54 L256.95 90.24 L258 89.75 L259.04 89.14 L260.08 88.75 L261.12 88.38 L262.17 87.77 L263.21 87.13 L264.25 86.69 L265.29 85.95 L266.33 85.5 L267.38 84.75 L268.42 84.1 L269.46 83.83 L270.5 83.05 L271.54 82.59 L272.59 82.24 L273.63 81.52 L274.67 81.11 L275.71 80.65 L276.75 80.01 L277.8 79.38 L278.84 78.96 L279.88 78.45 L280.92 77.85 L281.97 77.34 L283.01 76.74 L284.05 76.27 L285.09 75.96 L286.13 75.49 L287.18 74.75 L288.22 74.36 L289.26 73.94 L290.3 73.68 L291.35 73.09 L292.39 72.67 L293.43 72.46 L294.47 71.91 L295.51 71.78 L296.56 71.26 L297.6 71.1 L298.64 70.88 L299.68 70.59 L300.72 70.74 L301.77 70.64 L302.81 70.63 L303.85 70.63 L304.89 70.9 L305.94 70.94 L306.98 70.95 L308.02 71.22 L309.06 71.16 L310.1 71.37 L311.15 71.39 L312.19 71.57 L313.23 71.83 L314.27 71.8 L315.31 71.79 L316.36 71.89 L317.4 72.09 L318.44 72.06 L319.48 72.3 L320.52 72.12 L321.57 72.43 L322.61 72.41 L323.65 72.51 L324.69 72.4 L325.74 72.34 L326.78 72.39 L327.82 72.53 L328.86 72.36 L329.9 72.39 L330.95 72.6 L331.99 72.63 L333.03 72.62 L334.07 72.61 L335.12 72.53 L336.16 72.63 L337.2 72.57 L338.24 72.53 L339.28 72.49 L340.33 72.37 L341.37 72.39 L342.41 72.44 L343.45 72.5 L344.49 72.4 L345.54 72.65 L346.58 72.53 L347.62 72.58 L348.66 72.62 L349.71 72.42 L350.75 72.62 L351.79 72.64 L352.83 72.43 L353.87 72.39 L354.92 72.59 L355.96 72.62 L357 72.59" fill="none" stroke="#90dcc6" stroke-width="1.0" stroke-linejoin="round" stroke-linecap="round" />
<path d="M211.1 102.64 L212.14 102.21 L213.18 101.94 L214.23 102.16 L215.27 102.47 L216.31 102.93 L217.35 102.94 L218.39 103.21 L219.44 102.9 L220.48 103.1 L221.52 102.76 L222.56 102.77 L223.61 102.57 L224.65 102.36 L225.69 101.92 L226.73 101.67 L227.77 101.24 L228.82 101.11 L229.86 100.65 L230.9 100.72 L231.94 100.56 L232.98 100.39 L234.03 100.66 L235.07 100.49 L236.11 100.44 L237.15 100.49 L238.2 100.32 L239.24 100.19 L240.28 100.04 L241.32 99.77 L242.36 99.24 L243.41 98.85 L244.45 98.22 L245.49 97.37 L246.53 96.64 L247.57 96.05 L248.62 95.56 L249.66 95.34 L250.7 94.98 L251.74 94.94 L252.79 94.63 L253.83 94.55 L254.87 94.4 L255.91 94.29 L256.95 94.01 L258 93.87 L259.04 93.8 L260.08 93.44 L261.12 93.33 L262.17 93.16 L263.21 92.73 L264.25 92.63 L265.29 92.27 L266.33 92.12 L267.38 91.77 L268.42 91.62 L269.46 91.37 L270.5 90.98 L271.54 90.81 L272.59 90.52 L273.63 90.14 L274.67 89.83 L275.71 89.52 L276.75 89.1 L277.8 88.71 L278.84 88.12 L279.88 87.9 L280.92 87.48 L281.97 87.17 L283.01 86.5 L284.05 86.16 L285.09 86.03 L286.13 85.48 L287.18 85.22 L288.22 84.83 L289.26 84.43 L290.3 84.12 L291.35 83.84 L292.39 83.67 L293.43 83.25 L294.47 83.06 L295.51 82.64 L296.56 82.48 L297.6 82.19 L298.64 81.96 L299.68 81.73 L300.72 81.2 L301.77 81.17 L302.81 80.77 L303.85 80.36 L304.89 80.13 L305.94 79.74 L306.98 79.51 L308.02 79.42 L309.06 79.13 L310.1 78.92 L311.15 78.46 L312.19 78.21 L313.23 78.08 L314.27 77.91 L315.31 77.79 L316.36 77.49 L317.4 77.46 L318.44 77.26 L319.48 77.03 L320.52 77.04 L321.57 76.69 L322.61 76.72 L323.65 76.48 L324.69 76.31 L325.74 76.32 L326.78 76.22 L327.82 76.12 L328.86 75.93 L329.9 75.97 L330.95 75.8 L331.99 75.49 L333.03 75.32 L334.07 75.49 L335.12 75.21 L336.16 75.01 L337.2 74.93 L338.24 74.99 L339.28 74.74 L340.33 74.71 L341.37 74.7 L342.41 74.51 L343.45 74.5 L344.49 74.48 L345.54 74.32 L346.58 74.15 L347.62 74.02 L348.66 73.8 L349.71 73.78 L350.75 73.67 L351.79 73.54 L352.83 73.4 L353.87 73.37 L354.92 73.1 L355.96 73.15 L357 73.12" fill="none" stroke="#dc98b0" stroke-width="1.0" stroke-linejoin="round" stroke-linecap="round" />
<path d="M211.1 108.78 L212.14 108.7 L213.18 108.7 L214.23 108.2 L215.27 108.12 L216.31 107.62 L217.35 106.84 L218.39 106.27 L219.44 105.29 L220.48 104.72 L221.52 103.68 L222.56 102.97 L223.61 102.11 L224.65 101.04 L225.69 100.26 L226.73 99.34 L227.77 98.73 L228.82 97.83 L229.86 97.27 L230.9 96.91 L231.94 96.93 L232.98 96.64 L234.03 96.54 L235.07 96.49 L236.11 96.5 L237.15 96.41 L238.2 96.43 L239.24 96.06 L240.28 95.88 L241.32 95.76 L242.36 95.33 L243.41 95.05 L244.45 94.98 L245.49 94.55 L246.53 94.42 L247.57 94.07 L248.62 93.59 L249.66 93.22 L250.7 92.78 L251.74 92.63 L252.79 92.11 L253.83 91.67 L254.87 91.18 L255.91 90.74 L256.95 90.46 L258 89.76 L259.04 89.4 L260.08 88.93 L261.12 88.4 L262.17 87.87 L263.21 87.3 L264.25 86.66 L265.29 86.24 L266.33 85.65 L267.38 84.96 L268.42 84.31 L269.46 83.99 L270.5 83.27 L271.54 82.76 L272.59 82.39 L273.63 81.94 L274.67 81.32 L275.71 80.62 L276.75 80.32 L277.8 79.52 L278.84 79.04 L279.88 78.7 L280.92 78.13 L281.97 77.61 L283.01 76.91 L284.05 76.66 L285.09 76.05 L286.13 75.47 L287.18 75.26 L288.22 74.86 L289.26 74.17 L290.3 73.86 L291.35 73.58 L292.39 73 L293.43 72.61 L294.47 72.39 L295.51 71.93 L296.56 71.73 L297.6 71.41 L298.64 71.24 L299.68 71.11 L300.72 70.93 L301.77 71.08 L302.81 71.08 L303.85 71.09 L304.89 71.16 L305.94 71.14 L306.98 71.18 L308.02 71.49 L309.06 71.45 L310.1 71.49 L311.15 71.87 L312.19 71.82 L313.23 71.95 L314.27 71.92 L315.31 71.93 L316.36 72.05 L317.4 72.27 L318.44 72.16 L319.48 72.4 L320.52 72.27 L321.57 72.5 L322.61 72.33 L323.65 72.44 L324.69 72.36 L325.74 72.38 L326.78 72.5 L327.82 72.46 L328.86 72.51 L329.9 72.42 L330.95 72.45 L331.99 72.46 L333.03 72.63 L334.07 72.39 L335.12 72.49 L336.16 72.62 L337.2 72.54 L338.24 72.44 L339.28 72.66 L340.33 72.4 L341.37 72.4 L342.41 72.37 L343.45 72.49 L344.49 72.62 L345.54 72.44 L346.58 72.44 L347.62 72.6 L348.66 72.38 L349.71 72.36 L350.75 72.55 L351.79 72.38 L352.83 72.51 L353.87 72.4 L354.92 72.53 L355.96 72.61 L357 72.49" fill="none" stroke="#5cb868" stroke-width="1.05" stroke-linejoin="round" stroke-linecap="round" />
<path d="M211.1 101.04 L212.14 100.56 L213.18 100.49 L214.23 100.58 L215.27 101.04 L216.31 101.64 L217.35 102.09 L218.39 102.23 L219.44 102.49 L220.48 102.47 L221.52 102.73 L222.56 102.58 L223.61 102.52 L224.65 102.37 L225.69 102.23 L226.73 102.07 L227.77 102.07 L228.82 101.75 L229.86 101.6 L230.9 101.64 L231.94 101.6 L232.98 101.56 L234.03 101.44 L235.07 101.51 L236.11 101.59 L237.15 101.52 L238.2 101.45 L239.24 101.21 L240.28 100.92 L241.32 100.69 L242.36 100.19 L243.41 99.62 L244.45 98.92 L245.49 98.02 L246.53 97.32 L247.57 96.52 L248.62 96.28 L249.66 95.82 L250.7 95.56 L251.74 95.59 L252.79 95.4 L253.83 95.18 L254.87 95.02 L255.91 95.09 L256.95 95.03 L258 94.93 L259.04 94.72 L260.08 94.7 L261.12 94.43 L262.17 94.39 L263.21 94.12 L264.25 93.87 L265.29 93.85 L266.33 93.59 L267.38 93.34 L268.42 93.27 L269.46 93.05 L270.5 92.98 L271.54 92.91 L272.59 92.66 L273.63 92.27 L274.67 91.8 L275.71 91.48 L276.75 91.13 L277.8 90.83 L278.84 90.56 L279.88 90.01 L280.92 89.78 L281.97 89.39 L283.01 89.09 L284.05 88.78 L285.09 88.31 L286.13 88.02 L287.18 87.59 L288.22 87.31 L289.26 87.05 L290.3 86.57 L291.35 86.41 L292.39 86.14 L293.43 85.79 L294.47 85.56 L295.51 85.48 L296.56 85.09 L297.6 84.77 L298.64 84.51 L299.68 84.26 L300.72 83.87 L301.77 83.49 L302.81 83.1 L303.85 82.68 L304.89 82.39 L305.94 82.05 L306.98 81.54 L308.02 81.34 L309.06 80.9 L310.1 80.75 L311.15 80.41 L312.19 79.85 L313.23 79.72 L314.27 79.35 L315.31 79.03 L316.36 79.03 L317.4 78.82 L318.44 78.58 L319.48 78.34 L320.52 78.25 L321.57 77.95 L322.61 77.81 L323.65 77.65 L324.69 77.55 L325.74 77.4 L326.78 77.08 L327.82 76.9 L328.86 76.84 L329.9 76.7 L330.95 76.47 L331.99 76.47 L333.03 76.31 L334.07 76.12 L335.12 75.93 L336.16 75.84 L337.2 75.56 L338.24 75.62 L339.28 75.3 L340.33 75.42 L341.37 75.22 L342.41 75 L343.45 74.85 L344.49 74.84 L345.54 74.65 L346.58 74.57 L347.62 74.23 L348.66 74.3 L349.71 74.02 L350.75 73.88 L351.79 73.83 L352.83 73.66 L353.87 73.48 L354.92 73.3 L355.96 73.22 L357 72.96" fill="none" stroke="#d84c56" stroke-width="1.3" stroke-linejoin="round" stroke-linecap="round" />
<path d="M211.1 105.79 L212.14 104.69 L213.18 103.38 L214.23 102.63 L215.27 102.37 L216.31 101.83 L217.35 101.52 L218.39 101.24 L219.44 101.01 L220.48 100.62 L221.52 100.49 L222.56 100 L223.61 100.01 L224.65 99.62 L225.69 99.5 L226.73 99.21 L227.77 99.16 L228.82 98.87 L229.86 98.78 L230.9 98.55 L231.94 98.59 L232.98 98.5 L234.03 98.27 L235.07 98.37 L236.11 98.37 L237.15 98.11 L238.2 98.03 L239.24 98.11 L240.28 97.87 L241.32 97.19 L242.36 96.82 L243.41 96.31 L244.45 95.54 L245.49 95.1 L246.53 94.39 L247.57 93.99 L248.62 93.39 L249.66 92.88 L250.7 92.29 L251.74 91.97 L252.79 91.53 L253.83 90.97 L254.87 90.46 L255.91 90.04 L256.95 89.65 L258 89.42 L259.04 88.87 L260.08 88.42 L261.12 87.84 L262.17 87.09 L263.21 86.58 L264.25 86.14 L265.29 85.49 L266.33 84.91 L267.38 84.25 L268.42 83.64 L269.46 83.09 L270.5 82.59 L271.54 81.9 L272.59 81.24 L273.63 80.78 L274.67 80.14 L275.71 79.67 L276.75 79.22 L277.8 78.57 L278.84 78.01 L279.88 77.4 L280.92 76.91 L281.97 76.39 L283.01 75.85 L284.05 75.41 L285.09 74.64 L286.13 74.2 L287.18 73.68 L288.22 73.49 L289.26 72.95 L290.3 72.52 L291.35 72.13 L292.39 71.46 L293.43 71.33 L294.47 70.76 L295.51 70.45 L296.56 69.98 L297.6 69.72 L298.64 69.3 L299.68 69.13 L300.72 69.09 L301.77 69.31 L302.81 69.32 L303.85 69.36 L304.89 69.59 L305.94 69.83 L306.98 69.94 L308.02 70.18 L309.06 70.42 L310.1 70.54 L311.15 70.76 L312.19 70.77 L313.23 71.1 L314.27 71.28 L315.31 71.31 L316.36 71.3 L317.4 71.46 L318.44 71.8 L319.48 71.95 L320.52 72.03 L321.57 72.07 L322.61 72.18 L323.65 72.14 L324.69 72.37 L325.74 72.56 L326.78 72.37 L327.82 72.52 L328.86 72.61 L329.9 72.56 L330.95 72.48 L331.99 72.44 L333.03 72.59 L334.07 72.64 L335.12 72.63 L336.16 72.48 L337.2 72.58 L338.24 72.6 L339.28 72.46 L340.33 72.58 L341.37 72.47 L342.41 72.41 L343.45 72.35 L344.49 72.57 L345.54 72.58 L346.58 72.36 L347.62 72.37 L348.66 72.45 L349.71 72.41 L350.75 72.57 L351.79 72.41 L352.83 72.53 L353.87 72.52 L354.92 72.45 L355.96 72.61 L357 72.48" fill="none" stroke="#3a4acc" stroke-width="1.6" stroke-linejoin="round" stroke-linecap="round" />
<path d="M463.4 81.5 L464.31 88.28 L465.21 94.48 L466.12 99.75 L467.02 104.1 L467.93 107.82 L468.83 111.37 L469.74 114.8 L470.64 118.28 L471.55 121.55 L472.45 124.68 L473.36 127.72 L474.26 130.21 L475.17 132.11 L476.07 134.12 L476.98 135.47 L477.88 136.92 L478.79 137.87 L479.69 138.32 L480.6 138.34 L481.5 138.07 L482.41 137.31 L483.31 136.14 L484.22 134.63 L485.12 133.02 L486.03 131.45 L486.93 129.72 L487.84 127.91 L488.74 125.97 L489.65 124.29 L490.55 122.5 L491.46 120.61 L492.36 118.68 L493.27 116.93 L494.17 115.26 L495.08 113.45 L495.98 111.83 L496.89 110 L497.79 108.3 L498.7 106.56 L499.6 105.2 L500.51 103.85 L501.41 102.56 L502.32 101.27 L503.22 99.91 L504.13 98.83 L505.03 97.88 L505.94 96.69 L506.84 95.77 L507.75 94.92 L508.65 94.22 L509.56 93.34 L510.46 92.69 L511.37 92.01 L512.27 91.33 L513.18 90.5 L514.08 90.04 L514.99 89.47 L515.89 88.88 L516.8 88.36 L517.7 87.82 L518.61 87.27 L519.51 86.83 L520.42 86.3 L521.32 85.77 L522.23 85.42 L523.13 85.22 L524.04 84.75 L524.94 84.48 L525.85 84.3 L526.75 83.98 L527.66 83.73 L528.56 83.37 L529.47 83.1 L530.37 82.71 L531.28 82.45 L532.18 82.16 L533.09 81.97 L533.99 81.7 L534.89 81.33 L535.8 81.21 L536.71 80.82 L537.61 80.62 L538.52 80.27 L539.42 80.12 L540.33 79.77 L541.23 79.7 L542.13 79.3 L543.04 79.15 L543.95 78.79 L544.85 78.5 L545.75 78.36 L546.66 77.97 L547.57 77.76 L548.47 77.53 L549.38 77.36 L550.28 77.03 L551.19 76.62 L552.09 76.46 L553 76.32 L553.9 76.03 L554.81 75.66 L555.71 75.34 L556.62 75.11 L557.52 74.97 L558.43 74.57 L559.33 74.49 L560.24 74.1 L561.14 73.96 L562.05 73.73 L562.95 73.39 L563.86 73.23 L564.76 73.04 L565.67 72.74 L566.57 72.59 L567.48 72.41 L568.38 72.29 L569.29 71.93 L570.19 71.71 L571.1 71.6 L572 71.44 L572.91 71.23 L573.81 71.15 L574.72 70.81 L575.62 70.71 L576.53 70.54 L577.43 70.31 L578.34 70.21 L579.24 70.06 L580.14 69.88 L581.05 69.83 L581.96 69.72 L582.86 69.56 L583.77 69.23 L584.67 69.11 L585.58 69.09 L586.48 68.73 L587.38 68.58 L588.29 68.44 L589.2 68.52 L590.1 68.3 L591.01 68.17 L591.91 68.01 L592.82 68.13 L593.72 68.1 L594.62 68 L595.53 68.03 L596.44 67.94 L597.34 67.87 L598.25 67.85 L599.15 67.89 L600.06 67.87 L600.96 67.95 L601.87 67.91 L602.77 67.94 L603.68 68.19 L604.58 68.22 L605.49 68.25 L606.39 68.18 L607.3 68.25 L608.2 68.31" fill="none" stroke="#d4e6ee" stroke-width="1.0" stroke-linejoin="round" stroke-linecap="round" />
<path d="M463.4 80.96 L464.31 86.79 L465.21 92.19 L466.12 96.76 L467.02 100.52 L467.93 103.66 L468.83 106.54 L469.74 109.49 L470.64 112.49 L471.55 115.12 L472.45 117.87 L473.36 120.17 L474.26 122.22 L475.17 124.09 L476.07 125.52 L476.98 126.84 L477.88 127.78 L478.79 128.25 L479.69 128.48 L480.6 128.28 L481.5 127.58 L482.41 126.84 L483.31 125.65 L484.22 124.14 L485.12 122.52 L486.03 120.87 L486.93 119.11 L487.84 117.18 L488.74 115.28 L489.65 113.75 L490.55 112.29 L491.46 110.86 L492.36 109.64 L493.27 108.22 L494.17 107.02 L495.08 105.79 L495.98 104.56 L496.89 103.22 L497.79 102.1 L498.7 100.79 L499.6 99.78 L500.51 98.69 L501.41 97.71 L502.32 96.75 L503.22 95.83 L504.13 94.76 L505.03 94.07 L505.94 93.18 L506.84 92.44 L507.75 91.61 L508.65 91.12 L509.56 90.3 L510.46 89.67 L511.37 89.05 L512.27 88.42 L513.18 87.84 L514.08 87.26 L514.99 86.76 L515.89 86.19 L516.8 85.77 L517.7 85.33 L518.61 84.87 L519.51 84.29 L520.42 83.97 L521.32 83.6 L522.23 83.25 L523.13 82.86 L524.04 82.52 L524.94 82.39 L525.85 82.11 L526.75 81.79 L527.66 81.63 L528.56 81.24 L529.47 81.17 L530.37 80.95 L531.28 80.73 L532.18 80.29 L533.09 80.19 L533.99 79.99 L534.89 79.61 L535.8 79.49 L536.71 79.16 L537.61 78.95 L538.52 78.67 L539.42 78.51 L540.33 78.42 L541.23 78.14 L542.13 77.96 L543.04 77.79 L543.95 77.38 L544.85 77.33 L545.75 77.13 L546.66 76.87 L547.57 76.59 L548.47 76.35 L549.38 76.21 L550.28 75.99 L551.19 75.77 L552.09 75.67 L553 75.46 L553.9 75.17 L554.81 74.95 L555.71 74.83 L556.62 74.69 L557.52 74.48 L558.43 74.28 L559.33 74.15 L560.24 73.93 L561.14 73.68 L562.05 73.57 L562.95 73.36 L563.86 73.11 L564.76 72.88 L565.67 72.76 L566.57 72.67 L567.48 72.51 L568.38 72.24 L569.29 72.13 L570.19 71.85 L571.1 71.81 L572 71.62 L572.91 71.53 L573.81 71.39 L574.72 71.04 L575.62 71.1 L576.53 70.75 L577.43 70.78 L578.34 70.63 L579.24 70.29 L580.14 70.15 L581.05 69.96 L581.96 69.99 L582.86 69.8 L583.77 69.7 L584.67 69.51 L585.58 69.25 L586.48 69.2 L587.38 68.97 L588.29 68.83 L589.2 68.73 L590.1 68.68 L591.01 68.5 L591.91 68.48 L592.82 68.42 L593.72 68.41 L594.62 68.3 L595.53 68.26 L596.44 68.27 L597.34 68.23 L598.25 68.29 L599.15 68.13 L600.06 68.15 L600.96 68.12 L601.87 68.22 L602.77 68.33 L603.68 68.28 L604.58 68.3 L605.49 68.38 L606.39 68.37 L607.3 68.25 L608.2 68.23" fill="none" stroke="#f2d6e4" stroke-width="1.0" stroke-linejoin="round" stroke-linecap="round" />
<path d="M463.4 81.6 L464.31 88.46 L465.21 95.15 L466.12 100.62 L467.02 104.99 L467.93 108.97 L468.83 112.63 L469.74 116.23 L470.64 119.94 L471.55 123.25 L472.45 126.7 L473.36 129.66 L474.26 132.24 L475.17 134.38 L476.07 136.31 L476.98 137.9 L477.88 139.29 L478.79 140.62 L479.69 141.04 L480.6 141 L481.5 140.71 L482.41 139.76 L483.31 138.58 L484.22 137.14 L485.12 135.42 L486.03 133.63 L486.93 131.88 L487.84 130.14 L488.74 128.3 L489.65 126.32 L490.55 124.42 L491.46 122.6 L492.36 120.6 L493.27 118.89 L494.17 116.97 L495.08 115 L495.98 113.27 L496.89 111.43 L497.79 109.52 L498.7 107.93 L499.6 106.5 L500.51 104.97 L501.41 103.63 L502.32 102.18 L503.22 101.09 L504.13 99.82 L505.03 98.68 L505.94 97.51 L506.84 96.6 L507.75 95.58 L508.65 94.79 L509.56 93.88 L510.46 93.11 L511.37 92.39 L512.27 91.64 L513.18 91.02 L514.08 90.45 L514.99 89.76 L515.89 89.3 L516.8 88.85 L517.7 88.28 L518.61 87.84 L519.51 87.15 L520.42 86.83 L521.32 86.3 L522.23 86.06 L523.13 85.59 L524.04 85.29 L524.94 84.98 L525.85 84.52 L526.75 84.21 L527.66 84.09 L528.56 83.79 L529.47 83.4 L530.37 83 L531.28 82.7 L532.18 82.59 L533.09 82.28 L533.99 81.93 L534.89 81.73 L535.8 81.5 L536.71 81.05 L537.61 80.96 L538.52 80.75 L539.42 80.46 L540.33 80.2 L541.23 79.83 L542.13 79.61 L543.04 79.23 L543.95 79.13 L544.85 78.83 L545.75 78.5 L546.66 78.15 L547.57 77.92 L548.47 77.7 L549.38 77.56 L550.28 77.18 L551.19 77.01 L552.09 76.58 L553 76.33 L553.9 76.06 L554.81 75.8 L555.71 75.65 L556.62 75.28 L557.52 75.01 L558.43 74.83 L559.33 74.52 L560.24 74.37 L561.14 74.09 L562.05 73.88 L562.95 73.56 L563.86 73.32 L564.76 73.12 L565.67 73.03 L566.57 72.81 L567.48 72.51 L568.38 72.28 L569.29 71.98 L570.19 71.96 L571.1 71.7 L572 71.46 L572.91 71.21 L573.81 71.09 L574.72 70.97 L575.62 70.69 L576.53 70.52 L577.43 70.41 L578.34 70.24 L579.24 69.96 L580.14 69.82 L581.05 69.73 L581.96 69.66 L582.86 69.42 L583.77 69.18 L584.67 69.07 L585.58 68.91 L586.48 68.89 L587.38 68.62 L588.29 68.67 L589.2 68.37 L590.1 68.22 L591.01 68.08 L591.91 68.1 L592.82 68.04 L593.72 68.05 L594.62 67.99 L595.53 67.93 L596.44 67.8 L597.34 68 L598.25 67.84 L599.15 67.85 L600.06 67.85 L600.96 67.98 L601.87 68.03 L602.77 67.98 L603.68 68.01 L604.58 68 L605.49 68.18 L606.39 68.26 L607.3 68.16 L608.2 68.24" fill="none" stroke="#9ccce6" stroke-width="1.1" stroke-linejoin="round" stroke-linecap="round" />
<path d="M463.4 80.53 L464.31 86.05 L465.21 91.03 L466.12 95.58 L467.02 98.98 L467.93 101.98 L468.83 104.6 L469.74 107.35 L470.64 109.8 L471.55 112.29 L472.45 114.66 L473.36 116.73 L474.26 118.44 L475.17 120.18 L476.07 121.78 L476.98 123 L477.88 124 L478.79 124.18 L479.69 123.95 L480.6 123.35 L481.5 122.54 L482.41 121.46 L483.31 120.17 L484.22 118.44 L485.12 116.79 L486.03 115.03 L486.93 113.14 L487.84 111.05 L488.74 109.04 L489.65 107.54 L490.55 106.36 L491.46 105.12 L492.36 104.14 L493.27 103.08 L494.17 102.3 L495.08 101.27 L495.98 100.38 L496.89 99.59 L497.79 98.51 L498.7 97.6 L499.6 96.81 L500.51 95.94 L501.41 95.02 L502.32 94.26 L503.22 93.55 L504.13 92.82 L505.03 92.08 L505.94 91.33 L506.84 90.45 L507.75 89.83 L508.65 89.17 L509.56 88.41 L510.46 87.95 L511.37 87.2 L512.27 86.73 L513.18 86.12 L514.08 85.48 L514.99 84.97 L515.89 84.53 L516.8 84.01 L517.7 83.55 L518.61 83.25 L519.51 82.83 L520.42 82.49 L521.32 82.29 L522.23 81.97 L523.13 81.58 L524.04 81.2 L524.94 81.08 L525.85 80.69 L526.75 80.37 L527.66 80.28 L528.56 80.06 L529.47 79.67 L530.37 79.51 L531.28 79.38 L532.18 79.07 L533.09 78.82 L533.99 78.58 L534.89 78.34 L535.8 78.35 L536.71 78.14 L537.61 77.8 L538.52 77.72 L539.42 77.42 L540.33 77.38 L541.23 77.11 L542.13 77.01 L543.04 76.8 L543.95 76.52 L544.85 76.47 L545.75 76.32 L546.66 76.01 L547.57 75.84 L548.47 75.74 L549.38 75.69 L550.28 75.59 L551.19 75.3 L552.09 75.24 L553 75.05 L553.9 74.8 L554.81 74.69 L555.71 74.63 L556.62 74.4 L557.52 74.27 L558.43 74.18 L559.33 73.9 L560.24 73.84 L561.14 73.72 L562.05 73.59 L562.95 73.49 L563.86 73.25 L564.76 73.16 L565.67 73.02 L566.57 72.79 L567.48 72.81 L568.38 72.71 L569.29 72.47 L570.19 72.27 L571.1 72.11 L572 71.97 L572.91 71.79 L573.81 71.6 L574.72 71.6 L575.62 71.29 L576.53 71.09 L577.43 71.03 L578.34 70.71 L579.24 70.62 L580.14 70.51 L581.05 70.42 L581.96 70.14 L582.86 69.92 L583.77 69.99 L584.67 69.62 L585.58 69.58 L586.48 69.46 L587.38 69.45 L588.29 69.18 L589.2 69.04 L590.1 68.94 L591.01 68.89 L591.91 68.75 L592.82 68.86 L593.72 68.7 L594.62 68.71 L595.53 68.55 L596.44 68.6 L597.34 68.62 L598.25 68.43 L599.15 68.58 L600.06 68.39 L600.96 68.47 L601.87 68.51 L602.77 68.38 L603.68 68.48 L604.58 68.34 L605.49 68.34 L606.39 68.44 L607.3 68.34 L608.2 68.19" fill="none" stroke="#eab4cc" stroke-width="1.0" stroke-linejoin="round" stroke-linecap="round" />
<path d="M463.4 81.33 L464.31 87.97 L465.21 93.84 L466.12 98.82 L467.02 103.05 L467.93 106.57 L468.83 110.12 L469.74 113.26 L470.64 116.55 L471.55 119.86 L472.45 123.04 L473.36 125.89 L474.26 128.09 L475.17 129.97 L476.07 131.7 L476.98 133 L477.88 134.17 L478.79 134.98 L479.69 135.52 L480.6 135.81 L481.5 135.42 L482.41 134.57 L483.31 133.6 L484.22 132.08 L485.12 130.73 L486.03 129.1 L486.93 127.4 L487.84 125.54 L488.74 123.77 L489.65 122.12 L490.55 120.26 L491.46 118.48 L492.36 116.79 L493.27 115.29 L494.17 113.45 L495.08 111.74 L495.98 110.21 L496.89 108.43 L497.79 106.86 L498.7 105.41 L499.6 103.89 L500.51 102.61 L501.41 101.45 L502.32 100.2 L503.22 99.04 L504.13 97.76 L505.03 96.98 L505.94 95.97 L506.84 95.01 L507.75 94.41 L508.65 93.44 L509.56 92.91 L510.46 91.99 L511.37 91.34 L512.27 90.78 L513.18 90.18 L514.08 89.56 L514.99 89.02 L515.89 88.27 L516.8 87.86 L517.7 87.22 L518.61 86.86 L519.51 86.28 L520.42 85.84 L521.32 85.28 L522.23 85.08 L523.13 84.59 L524.04 84.27 L524.94 84.04 L525.85 83.87 L526.75 83.51 L527.66 83.3 L528.56 83.08 L529.47 82.72 L530.37 82.42 L531.28 82.21 L532.18 82.02 L533.09 81.74 L533.99 81.37 L534.89 81.22 L535.8 81 L536.71 80.71 L537.61 80.33 L538.52 80.03 L539.42 79.99 L540.33 79.66 L541.23 79.29 L542.13 79.13 L543.04 78.83 L543.95 78.58 L544.85 78.26 L545.75 78.08 L546.66 77.75 L547.57 77.5 L548.47 77.24 L549.38 77.09 L550.28 76.87 L551.19 76.48 L552.09 76.18 L553 75.97 L553.9 75.84 L554.81 75.49 L555.71 75.15 L556.62 75.1 L557.52 74.75 L558.43 74.41 L559.33 74.32 L560.24 74.03 L561.14 73.87 L562.05 73.64 L562.95 73.41 L563.86 73.2 L564.76 72.86 L565.67 72.75 L566.57 72.46 L567.48 72.3 L568.38 72 L569.29 71.91 L570.19 71.6 L571.1 71.61 L572 71.27 L572.91 71.19 L573.81 71.09 L574.72 70.92 L575.62 70.76 L576.53 70.5 L577.43 70.26 L578.34 70.33 L579.24 70.01 L580.14 69.99 L581.05 69.73 L581.96 69.59 L582.86 69.46 L583.77 69.31 L584.67 69.21 L585.58 69 L586.48 68.75 L587.38 68.68 L588.29 68.44 L589.2 68.48 L590.1 68.21 L591.01 68.15 L591.91 68.12 L592.82 68 L593.72 68.08 L594.62 68.03 L595.53 67.9 L596.44 67.92 L597.34 68 L598.25 67.95 L599.15 67.99 L600.06 67.94 L600.96 68.03 L601.87 68.06 L602.77 68.17 L603.68 68.08 L604.58 68.22 L605.49 68.12 L606.39 68.18 L607.3 68.2 L608.2 68.4" fill="none" stroke="#86dcc2" stroke-width="1.1" stroke-linejoin="round" stroke-linecap="round" />
<path d="M463.4 82.69 L464.31 83.93 L465.21 85.1 L466.12 86.17 L467.02 87.03 L467.93 87.7 L468.83 88.52 L469.74 89.34 L470.64 89.94 L471.55 90.68 L472.45 91.55 L473.36 91.99 L474.26 92.54 L475.17 93.06 L476.07 93.65 L476.98 93.9 L477.88 94.17 L478.79 94.32 L479.69 94.4 L480.6 94.08 L481.5 93.9 L482.41 93.68 L483.31 93.42 L484.22 92.92 L485.12 92.57 L486.03 92.14 L486.93 91.52 L487.84 91.06 L488.74 90.41 L489.65 89.96 L490.55 89.06 L491.46 88.43 L492.36 87.92 L493.27 87.29 L494.17 86.89 L495.08 86.38 L495.98 86.11 L496.89 85.6 L497.79 85.15 L498.7 84.72 L499.6 84.41 L500.51 84.11 L501.41 83.74 L502.32 83.4 L503.22 83.05 L504.13 82.86 L505.03 82.47 L505.94 82.25 L506.84 82.09 L507.75 81.81 L508.65 81.49 L509.56 81.33 L510.46 81.1 L511.37 80.76 L512.27 80.58 L513.18 80.45 L514.08 80.17 L514.99 79.97 L515.89 79.84 L516.8 79.57 L517.7 79.46 L518.61 79.5 L519.51 79.19 L520.42 79.19 L521.32 78.88 L522.23 78.83 L523.13 78.76 L524.04 78.59 L524.94 78.61 L525.85 78.49 L526.75 78.21 L527.66 78.05 L528.56 78.12 L529.47 77.98 L530.37 77.79 L531.28 77.57 L532.18 77.44 L533.09 77.48 L533.99 77.36 L534.89 77.19 L535.8 77.03 L536.71 76.89 L537.61 76.78 L538.52 76.66 L539.42 76.58 L540.33 76.4 L541.23 76.24 L542.13 76.08 L543.04 76.05 L543.95 75.98 L544.85 75.67 L545.75 75.67 L546.66 75.5 L547.57 75.27 L548.47 75.1 L549.38 75.13 L550.28 74.83 L551.19 74.69 L552.09 74.54 L553 74.58 L553.9 74.33 L554.81 74.1 L555.71 74.03 L556.62 73.94 L557.52 73.79 L558.43 73.56 L559.33 73.59 L560.24 73.41 L561.14 73.16 L562.05 73.03 L562.95 72.87 L563.86 72.67 L564.76 72.67 L565.67 72.45 L566.57 72.41 L567.48 72.31 L568.38 72.05 L569.29 71.9 L570.19 71.79 L571.1 71.67 L572 71.43 L572.91 71.37 L573.81 71.21 L574.72 71.02 L575.62 71.05 L576.53 70.88 L577.43 70.69 L578.34 70.44 L579.24 70.46 L580.14 70.24 L581.05 70.23 L581.96 70.04 L582.86 69.81 L583.77 69.81 L584.67 69.65 L585.58 69.47 L586.48 69.46 L587.38 69.25 L588.29 69.1 L589.2 68.98 L590.1 69.02 L591.01 68.87 L591.91 68.77 L592.82 68.68 L593.72 68.79 L594.62 68.63 L595.53 68.73 L596.44 68.69 L597.34 68.63 L598.25 68.46 L599.15 68.61 L600.06 68.5 L600.96 68.53 L601.87 68.53 L602.77 68.37 L603.68 68.36 L604.58 68.47 L605.49 68.31 L606.39 68.25 L607.3 68.21 L608.2 68.31" fill="none" stroke="#e294b0" stroke-width="1.05" stroke-linejoin="round" stroke-linecap="round" />
<path d="M463.4 81.27 L464.31 87.78 L465.21 93.14 L466.12 98.01 L467.02 102 L467.93 105.49 L468.83 108.77 L469.74 111.81 L470.64 115.08 L471.55 118.26 L472.45 121.23 L473.36 123.9 L474.26 126.01 L475.17 127.86 L476.07 129.31 L476.98 130.55 L477.88 131.61 L478.79 132.37 L479.69 132.87 L480.6 132.91 L481.5 132.85 L482.41 132.04 L483.31 131.07 L484.22 129.73 L485.12 128.32 L486.03 126.83 L486.93 125.16 L487.84 123.3 L488.74 121.66 L489.65 119.84 L490.55 118.21 L491.46 116.54 L492.36 115.08 L493.27 113.29 L494.17 111.73 L495.08 110.29 L495.98 108.6 L496.89 106.96 L497.79 105.47 L498.7 104.04 L499.6 102.71 L500.51 101.39 L501.41 100.19 L502.32 99 L503.22 97.87 L504.13 96.92 L505.03 95.91 L505.94 95.04 L506.84 94.43 L507.75 93.68 L508.65 92.86 L509.56 92.22 L510.46 91.47 L511.37 90.82 L512.27 90.32 L513.18 89.8 L514.08 88.99 L514.99 88.48 L515.89 87.98 L516.8 87.22 L517.7 86.81 L518.61 86.21 L519.51 85.81 L520.42 85.37 L521.32 84.96 L522.23 84.56 L523.13 84.07 L524.04 83.92 L524.94 83.65 L525.85 83.36 L526.75 83.11 L527.66 82.96 L528.56 82.7 L529.47 82.44 L530.37 82.31 L531.28 81.88 L532.18 81.78 L533.09 81.35 L533.99 81.23 L534.89 80.91 L535.8 80.65 L536.71 80.41 L537.61 80.06 L538.52 79.82 L539.42 79.6 L540.33 79.28 L541.23 79.17 L542.13 78.87 L543.04 78.59 L543.95 78.35 L544.85 77.96 L545.75 77.67 L546.66 77.44 L547.57 77.39 L548.47 77.05 L549.38 76.93 L550.28 76.53 L551.19 76.31 L552.09 76.13 L553 75.94 L553.9 75.59 L554.81 75.36 L555.71 75.08 L556.62 74.8 L557.52 74.71 L558.43 74.47 L559.33 74.12 L560.24 73.81 L561.14 73.75 L562.05 73.43 L562.95 73.27 L563.86 72.96 L564.76 72.66 L565.67 72.61 L566.57 72.25 L567.48 72.26 L568.38 71.89 L569.29 71.75 L570.19 71.49 L571.1 71.37 L572 71.32 L572.91 71.02 L573.81 70.87 L574.72 70.7 L575.62 70.53 L576.53 70.5 L577.43 70.28 L578.34 70.25 L579.24 70.09 L580.14 69.9 L581.05 69.85 L581.96 69.72 L582.86 69.41 L583.77 69.37 L584.67 69.19 L585.58 68.91 L586.48 68.89 L587.38 68.56 L588.29 68.57 L589.2 68.49 L590.1 68.32 L591.01 68.22 L591.91 68.14 L592.82 68.01 L593.72 67.9 L594.62 67.94 L595.53 67.9 L596.44 68.03 L597.34 68.05 L598.25 68.08 L599.15 67.95 L600.06 68.11 L600.96 68.13 L601.87 67.95 L602.77 68.11 L603.68 68.04 L604.58 68.07 L605.49 68.19 L606.39 68.29 L607.3 68.19 L608.2 68.26" fill="none" stroke="#3cb496" stroke-width="1.3" stroke-linejoin="round" stroke-linecap="round" />
<path d="M463.4 80.99 L464.31 81.44 L465.21 81.76 L466.12 82.17 L467.02 82.49 L467.93 82.91 L468.83 83.41 L469.74 83.53 L470.64 83.98 L471.55 84.26 L472.45 84.62 L473.36 84.89 L474.26 84.99 L475.17 85.3 L476.07 85.67 L476.98 85.86 L477.88 86.12 L478.79 86.09 L479.69 86.38 L480.6 86.3 L481.5 86.36 L482.41 86.24 L483.31 86.11 L484.22 86.06 L485.12 85.88 L486.03 86.06 L486.93 86.01 L487.84 85.91 L488.74 85.86 L489.65 85.8 L490.55 85.6 L491.46 85.4 L492.36 85.32 L493.27 85.2 L494.17 84.97 L495.08 84.75 L495.98 84.39 L496.89 84.19 L497.79 83.96 L498.7 83.83 L499.6 83.77 L500.51 83.62 L501.41 83.56 L502.32 83.49 L503.22 83.38 L504.13 83.34 L505.03 83.41 L505.94 83.25 L506.84 83.02 L507.75 82.85 L508.65 82.55 L509.56 82.32 L510.46 82.15 L511.37 81.99 L512.27 81.89 L513.18 81.95 L514.08 81.75 L514.99 81.55 L515.89 81.42 L516.8 81.3 L517.7 81.2 L518.61 81.12 L519.51 81.06 L520.42 80.9 L521.32 80.78 L522.23 80.74 L523.13 80.46 L524.04 80.31 L524.94 80.29 L525.85 80.01 L526.75 79.92 L527.66 79.68 L528.56 79.62 L529.47 79.31 L530.37 79.23 L531.28 79.24 L532.18 78.96 L533.09 78.91 L533.99 78.68 L534.89 78.52 L535.8 78.46 L536.71 78.33 L537.61 78.09 L538.52 78.06 L539.42 77.88 L540.33 77.72 L541.23 77.66 L542.13 77.54 L543.04 77.28 L543.95 77.11 L544.85 77.09 L545.75 76.96 L546.66 76.79 L547.57 76.72 L548.47 76.55 L549.38 76.55 L550.28 76.42 L551.19 76.37 L552.09 76.12 L553 75.93 L553.9 75.96 L554.81 75.71 L555.71 75.57 L556.62 75.35 L557.52 75.15 L558.43 74.84 L559.33 74.75 L560.24 74.49 L561.14 74.25 L562.05 74.01 L562.95 73.82 L563.86 73.69 L564.76 73.54 L565.67 73.38 L566.57 73.29 L567.48 73.2 L568.38 72.93 L569.29 72.78 L570.19 72.44 L571.1 72.42 L572 72.19 L572.91 72.06 L573.81 71.77 L574.72 71.65 L575.62 71.44 L576.53 71.33 L577.43 71.09 L578.34 71.02 L579.24 70.88 L580.14 70.65 L581.05 70.49 L581.96 70.39 L582.86 70.21 L583.77 70.17 L584.67 70.03 L585.58 69.79 L586.48 69.7 L587.38 69.44 L588.29 69.51 L589.2 69.33 L590.1 69.08 L591.01 68.98 L591.91 69.09 L592.82 69 L593.72 68.88 L594.62 68.77 L595.53 68.67 L596.44 68.68 L597.34 68.73 L598.25 68.62 L599.15 68.43 L600.06 68.43 L600.96 68.36 L601.87 68.51 L602.77 68.48 L603.68 68.48 L604.58 68.34 L605.49 68.3 L606.39 68.22 L607.3 68.26 L608.2 68.26" fill="none" stroke="#d0484e" stroke-width="1.4" stroke-linejoin="round" stroke-linecap="round" />
<path d="M463.4 81.65 L464.31 88.77 L465.21 95.8 L466.12 101.7 L467.02 106.01 L467.93 110.14 L468.83 113.98 L469.74 117.77 L470.64 121.59 L471.55 124.94 L472.45 128.32 L473.36 131.67 L474.26 134.18 L475.17 136.53 L476.07 138.69 L476.98 140.5 L477.88 141.96 L478.79 143.29 L479.69 143.76 L480.6 143.89 L481.5 143.21 L482.41 142.28 L483.31 140.94 L484.22 139.36 L485.12 137.69 L486.03 135.9 L486.93 134.26 L487.84 132.5 L488.74 130.44 L489.65 128.62 L490.55 126.6 L491.46 124.63 L492.36 122.68 L493.27 120.62 L494.17 118.72 L495.08 116.62 L495.98 114.83 L496.89 112.87 L497.79 110.92 L498.7 109.18 L499.6 107.77 L500.51 106.19 L501.41 104.7 L502.32 103.3 L503.22 102.06 L504.13 100.76 L505.03 99.5 L505.94 98.57 L506.84 97.49 L507.75 96.47 L508.65 95.5 L509.56 94.58 L510.46 93.66 L511.37 93.04 L512.27 92.25 L513.18 91.44 L514.08 90.98 L514.99 90.29 L515.89 89.64 L516.8 89.31 L517.7 88.64 L518.61 88.2 L519.51 87.64 L520.42 87.3 L521.32 86.86 L522.23 86.52 L523.13 86.17 L524.04 85.79 L524.94 85.38 L525.85 84.98 L526.75 84.79 L527.66 84.29 L528.56 84 L529.47 83.75 L530.37 83.39 L531.28 83.12 L532.18 82.7 L533.09 82.44 L533.99 82.1 L534.89 81.93 L535.8 81.62 L536.71 81.49 L537.61 81.09 L538.52 80.81 L539.42 80.67 L540.33 80.29 L541.23 80.18 L542.13 79.84 L543.04 79.49 L543.95 79.36 L544.85 79.16 L545.75 78.73 L546.66 78.51 L547.57 78.23 L548.47 78.05 L549.38 77.78 L550.28 77.28 L551.19 77.08 L552.09 76.91 L553 76.54 L553.9 76.29 L554.81 76.03 L555.71 75.62 L556.62 75.35 L557.52 75.29 L558.43 74.9 L559.33 74.65 L560.24 74.43 L561.14 74.22 L562.05 74.02 L562.95 73.6 L563.86 73.5 L564.76 73.13 L565.67 73.04 L566.57 72.89 L567.48 72.6 L568.38 72.36 L569.29 72.27 L570.19 72.01 L571.1 71.85 L572 71.56 L572.91 71.3 L573.81 71.19 L574.72 70.96 L575.62 70.66 L576.53 70.51 L577.43 70.54 L578.34 70.29 L579.24 69.98 L580.14 69.99 L581.05 69.83 L581.96 69.5 L582.86 69.57 L583.77 69.21 L584.67 69.13 L585.58 69.03 L586.48 68.83 L587.38 68.65 L588.29 68.55 L589.2 68.46 L590.1 68.42 L591.01 68.29 L591.91 68.22 L592.82 68.11 L593.72 67.97 L594.62 67.9 L595.53 68.01 L596.44 67.99 L597.34 67.83 L598.25 67.95 L599.15 67.85 L600.06 67.79 L600.96 67.92 L601.87 68.06 L602.77 68.01 L603.68 68.13 L604.58 68.18 L605.49 68.22 L606.39 68.15 L607.3 68.35 L608.2 68.2" fill="none" stroke="#3c48c4" stroke-width="1.7" stroke-linejoin="round" stroke-linecap="round" />
<rect x="58.2" y="39.3" width="144.8" height="116.9" fill="none" stroke="#222" stroke-width="1.7"/>
<rect x="210.5" y="38.3" width="146.5" height="117.8" fill="none" stroke="#222" stroke-width="1.7"/>
<rect x="462.8" y="34.4" width="145.4" height="121" fill="none" stroke="#222" stroke-width="1.7"/>
<line x1="61.2" y1="72.7" x2="203" y2="72.7" stroke="#333" stroke-width="1.25" stroke-dasharray="1.4 2.28"/>
<line x1="213.5" y1="71.77" x2="357" y2="71.77" stroke="#333" stroke-width="1.25" stroke-dasharray="1.4 2.28"/>
<line x1="465.8" y1="68.97" x2="608.2" y2="68.97" stroke="#333" stroke-width="1.25" stroke-dasharray="1.4 2.28"/>
<line x1="53.2" y1="39.3" x2="58.2" y2="39.3" stroke="#222" stroke-width="1.3" />
<text x="51.9" y="42.7" font-size="9.5" font-weight="bold" text-anchor="end" fill="#111" stroke="#111" stroke-width="0.22" >10</text>
<line x1="53.2" y1="72.7" x2="58.2" y2="72.7" stroke="#222" stroke-width="1.3" />
<text x="51.9" y="76.1" font-size="9.5" font-weight="bold" text-anchor="end" fill="#111" stroke="#111" stroke-width="0.22" >0</text>
<line x1="53.2" y1="106.1" x2="58.2" y2="106.1" stroke="#222" stroke-width="1.3" />
<text x="51.9" y="109.5" font-size="9.5" font-weight="bold" text-anchor="end" fill="#111" stroke="#111" stroke-width="0.22" >-10</text>
<line x1="53.2" y1="139.5" x2="58.2" y2="139.5" stroke="#222" stroke-width="1.3" />
<text x="51.9" y="142.9" font-size="9.5" font-weight="bold" text-anchor="end" fill="#111" stroke="#111" stroke-width="0.22" >-20</text>
<line x1="60.83" y1="156.2" x2="60.83" y2="159" stroke="#222" stroke-width="1.1" />
<line x1="66.1" y1="156.2" x2="66.1" y2="159" stroke="#222" stroke-width="1.1" />
<line x1="71.36" y1="156.2" x2="71.36" y2="161.2" stroke="#222" stroke-width="1.3" />
<line x1="76.63" y1="156.2" x2="76.63" y2="159" stroke="#222" stroke-width="1.1" />
<line x1="81.89" y1="156.2" x2="81.89" y2="159" stroke="#222" stroke-width="1.1" />
<line x1="87.16" y1="156.2" x2="87.16" y2="159" stroke="#222" stroke-width="1.1" />
<line x1="92.43" y1="156.2" x2="92.43" y2="159" stroke="#222" stroke-width="1.1" />
<line x1="97.69" y1="156.2" x2="97.69" y2="159" stroke="#222" stroke-width="1.1" />
<line x1="102.96" y1="156.2" x2="102.96" y2="159" stroke="#222" stroke-width="1.1" />
<line x1="108.22" y1="156.2" x2="108.22" y2="159" stroke="#222" stroke-width="1.1" />
<line x1="113.49" y1="156.2" x2="113.49" y2="159" stroke="#222" stroke-width="1.1" />
<line x1="118.75" y1="156.2" x2="118.75" y2="159" stroke="#222" stroke-width="1.1" />
<line x1="124.02" y1="156.2" x2="124.02" y2="161.2" stroke="#222" stroke-width="1.3" />
<line x1="129.28" y1="156.2" x2="129.28" y2="159" stroke="#222" stroke-width="1.1" />
<line x1="134.55" y1="156.2" x2="134.55" y2="159" stroke="#222" stroke-width="1.1" />
<line x1="139.81" y1="156.2" x2="139.81" y2="159" stroke="#222" stroke-width="1.1" />
<line x1="145.08" y1="156.2" x2="145.08" y2="159" stroke="#222" stroke-width="1.1" />
<line x1="150.35" y1="156.2" x2="150.35" y2="159" stroke="#222" stroke-width="1.1" />
<line x1="155.61" y1="156.2" x2="155.61" y2="159" stroke="#222" stroke-width="1.1" />
<line x1="160.88" y1="156.2" x2="160.88" y2="159" stroke="#222" stroke-width="1.1" />
<line x1="166.14" y1="156.2" x2="166.14" y2="159" stroke="#222" stroke-width="1.1" />
<line x1="171.41" y1="156.2" x2="171.41" y2="159" stroke="#222" stroke-width="1.1" />
<line x1="176.67" y1="156.2" x2="176.67" y2="161.2" stroke="#222" stroke-width="1.3" />
<line x1="181.94" y1="156.2" x2="181.94" y2="159" stroke="#222" stroke-width="1.1" />
<line x1="187.2" y1="156.2" x2="187.2" y2="159" stroke="#222" stroke-width="1.1" />
<line x1="192.47" y1="156.2" x2="192.47" y2="159" stroke="#222" stroke-width="1.1" />
<line x1="197.73" y1="156.2" x2="197.73" y2="159" stroke="#222" stroke-width="1.1" />
<line x1="203" y1="156.2" x2="203" y2="159" stroke="#222" stroke-width="1.1" />
<text x="71.36" y="171" font-size="9.5" font-weight="bold" text-anchor="middle" fill="#111" stroke="#111" stroke-width="0.22" >200</text>
<text x="124.02" y="171" font-size="9.5" font-weight="bold" text-anchor="middle" fill="#111" stroke="#111" stroke-width="0.22" >220</text>
<text x="176.67" y="171" font-size="9.5" font-weight="bold" text-anchor="middle" fill="#111" stroke="#111" stroke-width="0.22" >240</text>
<line x1="208.7" y1="71.77" x2="210.5" y2="71.77" stroke="#222" stroke-width="1.3" />
<line x1="208.7" y1="105.23" x2="210.5" y2="105.23" stroke="#222" stroke-width="1.3" />
<line x1="208.7" y1="138.7" x2="210.5" y2="138.7" stroke="#222" stroke-width="1.3" />
<line x1="213.16" y1="156.1" x2="213.16" y2="158.9" stroke="#222" stroke-width="1.1" />
<line x1="218.49" y1="156.1" x2="218.49" y2="158.9" stroke="#222" stroke-width="1.1" />
<line x1="223.82" y1="156.1" x2="223.82" y2="161.1" stroke="#222" stroke-width="1.3" />
<line x1="229.15" y1="156.1" x2="229.15" y2="158.9" stroke="#222" stroke-width="1.1" />
<line x1="234.47" y1="156.1" x2="234.47" y2="158.9" stroke="#222" stroke-width="1.1" />
<line x1="239.8" y1="156.1" x2="239.8" y2="158.9" stroke="#222" stroke-width="1.1" />
<line x1="245.13" y1="156.1" x2="245.13" y2="158.9" stroke="#222" stroke-width="1.1" />
<line x1="250.45" y1="156.1" x2="250.45" y2="158.9" stroke="#222" stroke-width="1.1" />
<line x1="255.78" y1="156.1" x2="255.78" y2="158.9" stroke="#222" stroke-width="1.1" />
<line x1="261.11" y1="156.1" x2="261.11" y2="158.9" stroke="#222" stroke-width="1.1" />
<line x1="266.44" y1="156.1" x2="266.44" y2="158.9" stroke="#222" stroke-width="1.1" />
<line x1="271.76" y1="156.1" x2="271.76" y2="158.9" stroke="#222" stroke-width="1.1" />
<line x1="277.09" y1="156.1" x2="277.09" y2="161.1" stroke="#222" stroke-width="1.3" />
<line x1="282.42" y1="156.1" x2="282.42" y2="158.9" stroke="#222" stroke-width="1.1" />
<line x1="287.75" y1="156.1" x2="287.75" y2="158.9" stroke="#222" stroke-width="1.1" />
<line x1="293.07" y1="156.1" x2="293.07" y2="158.9" stroke="#222" stroke-width="1.1" />
<line x1="298.4" y1="156.1" x2="298.4" y2="158.9" stroke="#222" stroke-width="1.1" />
<line x1="303.73" y1="156.1" x2="303.73" y2="158.9" stroke="#222" stroke-width="1.1" />
<line x1="309.05" y1="156.1" x2="309.05" y2="158.9" stroke="#222" stroke-width="1.1" />
<line x1="314.38" y1="156.1" x2="314.38" y2="158.9" stroke="#222" stroke-width="1.1" />
<line x1="319.71" y1="156.1" x2="319.71" y2="158.9" stroke="#222" stroke-width="1.1" />
<line x1="325.04" y1="156.1" x2="325.04" y2="158.9" stroke="#222" stroke-width="1.1" />
<line x1="330.36" y1="156.1" x2="330.36" y2="161.1" stroke="#222" stroke-width="1.3" />
<line x1="335.69" y1="156.1" x2="335.69" y2="158.9" stroke="#222" stroke-width="1.1" />
<line x1="341.02" y1="156.1" x2="341.02" y2="158.9" stroke="#222" stroke-width="1.1" />
<line x1="346.35" y1="156.1" x2="346.35" y2="158.9" stroke="#222" stroke-width="1.1" />
<line x1="351.67" y1="156.1" x2="351.67" y2="158.9" stroke="#222" stroke-width="1.1" />
<line x1="357" y1="156.1" x2="357" y2="158.9" stroke="#222" stroke-width="1.1" />
<text x="223.82" y="171.6" font-size="9.5" font-weight="bold" text-anchor="middle" fill="#111" stroke="#111" stroke-width="0.22" >200</text>
<text x="277.09" y="171.6" font-size="9.5" font-weight="bold" text-anchor="middle" fill="#111" stroke="#111" stroke-width="0.22" >220</text>
<text x="330.36" y="171.6" font-size="9.5" font-weight="bold" text-anchor="middle" fill="#111" stroke="#111" stroke-width="0.22" >240</text>
<line x1="457.8" y1="34.4" x2="462.8" y2="34.4" stroke="#222" stroke-width="1.3" />
<text x="456.5" y="37.8" font-size="9.5" font-weight="bold" text-anchor="end" fill="#111" stroke="#111" stroke-width="0.22" >10</text>
<line x1="457.8" y1="68.97" x2="462.8" y2="68.97" stroke="#222" stroke-width="1.3" />
<text x="456.5" y="72.37" font-size="9.5" font-weight="bold" text-anchor="end" fill="#111" stroke="#111" stroke-width="0.22" >0</text>
<line x1="457.8" y1="103.54" x2="462.8" y2="103.54" stroke="#222" stroke-width="1.3" />
<text x="456.5" y="106.94" font-size="9.5" font-weight="bold" text-anchor="end" fill="#111" stroke="#111" stroke-width="0.22" >-10</text>
<line x1="457.8" y1="138.11" x2="462.8" y2="138.11" stroke="#222" stroke-width="1.3" />
<text x="456.5" y="141.51" font-size="9.5" font-weight="bold" text-anchor="end" fill="#111" stroke="#111" stroke-width="0.22" >-20</text>
<line x1="465.44" y1="155.4" x2="465.44" y2="158.2" stroke="#222" stroke-width="1.1" />
<line x1="470.73" y1="155.4" x2="470.73" y2="158.2" stroke="#222" stroke-width="1.1" />
<line x1="476.02" y1="155.4" x2="476.02" y2="160.4" stroke="#222" stroke-width="1.3" />
<line x1="481.31" y1="155.4" x2="481.31" y2="158.2" stroke="#222" stroke-width="1.1" />
<line x1="486.59" y1="155.4" x2="486.59" y2="158.2" stroke="#222" stroke-width="1.1" />
<line x1="491.88" y1="155.4" x2="491.88" y2="158.2" stroke="#222" stroke-width="1.1" />
<line x1="497.17" y1="155.4" x2="497.17" y2="158.2" stroke="#222" stroke-width="1.1" />
<line x1="502.45" y1="155.4" x2="502.45" y2="158.2" stroke="#222" stroke-width="1.1" />
<line x1="507.74" y1="155.4" x2="507.74" y2="158.2" stroke="#222" stroke-width="1.1" />
<line x1="513.03" y1="155.4" x2="513.03" y2="158.2" stroke="#222" stroke-width="1.1" />
<line x1="518.32" y1="155.4" x2="518.32" y2="158.2" stroke="#222" stroke-width="1.1" />
<line x1="523.6" y1="155.4" x2="523.6" y2="158.2" stroke="#222" stroke-width="1.1" />
<line x1="528.89" y1="155.4" x2="528.89" y2="160.4" stroke="#222" stroke-width="1.3" />
<line x1="534.18" y1="155.4" x2="534.18" y2="158.2" stroke="#222" stroke-width="1.1" />
<line x1="539.47" y1="155.4" x2="539.47" y2="158.2" stroke="#222" stroke-width="1.1" />
<line x1="544.75" y1="155.4" x2="544.75" y2="158.2" stroke="#222" stroke-width="1.1" />
<line x1="550.04" y1="155.4" x2="550.04" y2="158.2" stroke="#222" stroke-width="1.1" />
<line x1="555.33" y1="155.4" x2="555.33" y2="158.2" stroke="#222" stroke-width="1.1" />
<line x1="560.61" y1="155.4" x2="560.61" y2="158.2" stroke="#222" stroke-width="1.1" />
<line x1="565.9" y1="155.4" x2="565.9" y2="158.2" stroke="#222" stroke-width="1.1" />
<line x1="571.19" y1="155.4" x2="571.19" y2="158.2" stroke="#222" stroke-width="1.1" />
<line x1="576.48" y1="155.4" x2="576.48" y2="158.2" stroke="#222" stroke-width="1.1" />
<line x1="581.76" y1="155.4" x2="581.76" y2="160.4" stroke="#222" stroke-width="1.3" />
<line x1="587.05" y1="155.4" x2="587.05" y2="158.2" stroke="#222" stroke-width="1.1" />
<line x1="592.34" y1="155.4" x2="592.34" y2="158.2" stroke="#222" stroke-width="1.1" />
<line x1="597.63" y1="155.4" x2="597.63" y2="158.2" stroke="#222" stroke-width="1.1" />
<line x1="602.91" y1="155.4" x2="602.91" y2="158.2" stroke="#222" stroke-width="1.1" />
<line x1="608.2" y1="155.4" x2="608.2" y2="158.2" stroke="#222" stroke-width="1.1" />
<text x="476.02" y="170.4" font-size="9.5" font-weight="bold" text-anchor="middle" fill="#111" stroke="#111" stroke-width="0.22" >200</text>
<text x="528.89" y="170.4" font-size="9.5" font-weight="bold" text-anchor="middle" fill="#111" stroke="#111" stroke-width="0.22" >220</text>
<text x="581.76" y="170.4" font-size="9.5" font-weight="bold" text-anchor="middle" fill="#111" stroke="#111" stroke-width="0.22" >240</text>
<line x1="148" y1="59" x2="148" y2="156.2" stroke="#3d5266" stroke-width="2" stroke-dasharray="5.1 2.8"/>
<line x1="299.7" y1="57.6" x2="299.7" y2="156.1" stroke="#3d5266" stroke-width="2" stroke-dasharray="5.9 2.7"/>
<line x1="479.5" y1="34.4" x2="479.5" y2="155.4" stroke="#3d5266" stroke-width="2" stroke-dasharray="6 2.8"/>
<text x="61.5" y="53.2" font-size="10.35" font-weight="bold" text-anchor="start" fill="#111" stroke="#111" stroke-width="0.22" >hCCL5-K25S dimer (pH 3.0)</text>
<text x="216.2" y="52.6" font-size="10.35" font-weight="bold" text-anchor="start" fill="#111" stroke="#111" stroke-width="0.22" >hCCL5-E66S dimer (pH 6.0)</text>
<text x="496.6" y="48.6" font-size="10.3" font-weight="bold" text-anchor="start" fill="#111" stroke="#111" stroke-width="0.22" >hCCL5-K25S filament</text>
<text x="496.6" y="60.6" font-size="10.3" font-weight="bold" text-anchor="start" fill="#111" stroke="#111" stroke-width="0.22" >(pH 6.0)</text>
<text x="130.6" y="187" font-size="10.2" font-weight="bold" text-anchor="middle" fill="#111" stroke="#111" stroke-width="0.22" >Wavelength (nm)</text>
<text x="283.75" y="187" font-size="10.2" font-weight="bold" text-anchor="middle" fill="#111" stroke="#111" stroke-width="0.22" >Wavelength (nm)</text>
<text x="535.5" y="180.9" font-size="10.2" font-weight="bold" text-anchor="middle" fill="#111" stroke="#111" stroke-width="0.22" >Wavelength (nm)</text>
<text transform="translate(32.5,96.9) rotate(-90)" font-size="11.2" font-weight="bold" text-anchor="middle" fill="#111" stroke="#111" stroke-width="0.22">CD (mdeg)</text>
<text transform="translate(438.6,93.9) rotate(-90)" font-size="11.6" font-weight="bold" text-anchor="middle" fill="#111" stroke="#111" stroke-width="0.22">CD (mdeg)</text>
<line x1="367.6" y1="39.6" x2="381" y2="39.6" stroke="#4e5bd0" stroke-width="1.3" />
<text x="388" y="43.4" font-size="10.5" font-weight="normal" text-anchor="start" fill="#222" >10°C</text>
<line x1="367.6" y1="55.82" x2="381" y2="55.82" stroke="#a6c8ea" stroke-width="1.3" />
<text x="388" y="59.62" font-size="10.5" font-weight="normal" text-anchor="start" fill="#222" >20°C</text>
<line x1="367.6" y1="72.04" x2="381" y2="72.04" stroke="#d8e6f4" stroke-width="1.3" />
<text x="388" y="75.84" font-size="10.5" font-weight="normal" text-anchor="start" fill="#222" >30°C</text>
<line x1="367.6" y1="88.26" x2="381" y2="88.26" stroke="#98e0cc" stroke-width="1.3" />
<text x="388" y="92.06" font-size="10.5" font-weight="normal" text-anchor="start" fill="#222" >40°C</text>
<line x1="367.6" y1="104.48" x2="381" y2="104.48" stroke="#5cb65c" stroke-width="1.3" />
<text x="388" y="108.28" font-size="10.5" font-weight="normal" text-anchor="start" fill="#222" >50°C</text>
<line x1="367.6" y1="120.7" x2="381" y2="120.7" stroke="#f2dae4" stroke-width="1.3" />
<text x="388" y="124.5" font-size="10.5" font-weight="normal" text-anchor="start" fill="#222" >60°C</text>
<line x1="367.6" y1="136.92" x2="381" y2="136.92" stroke="#ecc2d0" stroke-width="1.3" />
<text x="388" y="140.72" font-size="10.5" font-weight="normal" text-anchor="start" fill="#222" >70°C</text>
<line x1="367.6" y1="153.14" x2="381" y2="153.14" stroke="#d89cb4" stroke-width="1.3" />
<text x="388" y="156.94" font-size="10.5" font-weight="normal" text-anchor="start" fill="#222" >80°C</text>
<line x1="367.6" y1="169.36" x2="381" y2="169.36" stroke="#cc4444" stroke-width="1.3" />
<text x="388" y="173.16" font-size="10.5" font-weight="normal" text-anchor="start" fill="#222" >90°C</text>
<line x1="636.3" y1="40.9" x2="649.8" y2="40.9" stroke="#5a5cc8" stroke-width="1.3" />
<text x="656.9" y="44.7" font-size="10.5" font-weight="normal" text-anchor="start" fill="#222" >10°C</text>
<line x1="636.3" y1="57.4" x2="649.8" y2="57.4" stroke="#a4cee2" stroke-width="1.3" />
<text x="656.9" y="61.2" font-size="10.5" font-weight="normal" text-anchor="start" fill="#222" >20°C</text>
<line x1="636.3" y1="73.9" x2="649.8" y2="73.9" stroke="#dceaf0" stroke-width="1.3" />
<text x="656.9" y="77.7" font-size="10.5" font-weight="normal" text-anchor="start" fill="#222" >30°C</text>
<line x1="636.3" y1="90.4" x2="649.8" y2="90.4" stroke="#8adcc4" stroke-width="1.3" />
<text x="656.9" y="94.2" font-size="10.5" font-weight="normal" text-anchor="start" fill="#222" >40°C</text>
<line x1="636.3" y1="106.9" x2="649.8" y2="106.9" stroke="#4cb89c" stroke-width="1.3" />
<text x="656.9" y="110.7" font-size="10.5" font-weight="normal" text-anchor="start" fill="#222" >50°C</text>
<line x1="636.3" y1="123.4" x2="649.8" y2="123.4" stroke="#f4dae6" stroke-width="1.3" />
<text x="656.9" y="127.2" font-size="10.5" font-weight="normal" text-anchor="start" fill="#222" >60°C</text>
<line x1="636.3" y1="139.9" x2="649.8" y2="139.9" stroke="#e8b6cc" stroke-width="1.3" />
<text x="656.9" y="143.7" font-size="10.5" font-weight="normal" text-anchor="start" fill="#222" >70°C</text>
<line x1="636.3" y1="156.4" x2="649.8" y2="156.4" stroke="#e094ac" stroke-width="1.3" />
<text x="656.9" y="160.2" font-size="10.5" font-weight="normal" text-anchor="start" fill="#222" >80°C</text>
<line x1="636.3" y1="172.9" x2="649.8" y2="172.9" stroke="#cc4646" stroke-width="1.3" />
<text x="656.9" y="176.7" font-size="10.5" font-weight="normal" text-anchor="start" fill="#222" >90°C</text>
<rect x="204.1" y="198.7" width="3" height="16.9" fill="#000"/>
<path d="M200.9 214.6 L205.6 215.8 L210.3 214.6 L205.6 223.4 Z" fill="#000"/>
<rect x="533.9" y="194.7" width="3" height="17.2" fill="#000"/>
<path d="M530.8 210.9 L535.4 212.1 L540 210.9 L535.4 220 Z" fill="#000"/>
<rect x="110.3" y="237.8" width="202.4" height="134.9" fill="none" stroke="#222" stroke-width="1.7"/>
<line x1="113.3" y1="260.28" x2="312.7" y2="260.28" stroke="#333" stroke-width="1.25" stroke-dasharray="1.4 2.28"/>
<line x1="105.5" y1="260.28" x2="110.3" y2="260.28" stroke="#222" stroke-width="1.5" />
<text x="103.3" y="263.88" font-size="10" font-weight="bold" text-anchor="end" fill="#111" stroke="#111" stroke-width="0.22" >0</text>
<line x1="105.5" y1="305.25" x2="110.3" y2="305.25" stroke="#222" stroke-width="1.5" />
<text x="103.3" y="308.85" font-size="10" font-weight="bold" text-anchor="end" fill="#111" stroke="#111" stroke-width="0.22" >-2</text>
<line x1="105.5" y1="350.22" x2="110.3" y2="350.22" stroke="#222" stroke-width="1.5" />
<text x="103.3" y="353.82" font-size="10" font-weight="bold" text-anchor="end" fill="#111" stroke="#111" stroke-width="0.22" >-4</text>
<line x1="110.3" y1="372.7" x2="110.3" y2="378.4" stroke="#222" stroke-width="1.5" />
<text x="110.3" y="389.2" font-size="10" font-weight="bold" text-anchor="middle" fill="#111" stroke="#111" stroke-width="0.22" >10</text>
<line x1="135.6" y1="372.7" x2="135.6" y2="378.4" stroke="#222" stroke-width="1.5" />
<text x="135.6" y="389.2" font-size="10" font-weight="bold" text-anchor="middle" fill="#111" stroke="#111" stroke-width="0.22" >20</text>
<line x1="160.9" y1="372.7" x2="160.9" y2="378.4" stroke="#222" stroke-width="1.5" />
<text x="160.9" y="389.2" font-size="10" font-weight="bold" text-anchor="middle" fill="#111" stroke="#111" stroke-width="0.22" >30</text>
<line x1="186.2" y1="372.7" x2="186.2" y2="378.4" stroke="#222" stroke-width="1.5" />
<text x="186.2" y="389.2" font-size="10" font-weight="bold" text-anchor="middle" fill="#111" stroke="#111" stroke-width="0.22" >40</text>
<line x1="211.5" y1="372.7" x2="211.5" y2="378.4" stroke="#222" stroke-width="1.5" />
<text x="211.5" y="389.2" font-size="10" font-weight="bold" text-anchor="middle" fill="#111" stroke="#111" stroke-width="0.22" >50</text>
<line x1="236.8" y1="372.7" x2="236.8" y2="378.4" stroke="#222" stroke-width="1.5" />
<text x="236.8" y="389.2" font-size="10" font-weight="bold" text-anchor="middle" fill="#111" stroke="#111" stroke-width="0.22" >60</text>
<line x1="262.1" y1="372.7" x2="262.1" y2="378.4" stroke="#222" stroke-width="1.5" />
<text x="262.1" y="389.2" font-size="10" font-weight="bold" text-anchor="middle" fill="#111" stroke="#111" stroke-width="0.22" >70</text>
<line x1="287.4" y1="372.7" x2="287.4" y2="378.4" stroke="#222" stroke-width="1.5" />
<text x="287.4" y="389.2" font-size="10" font-weight="bold" text-anchor="middle" fill="#111" stroke="#111" stroke-width="0.22" >80</text>
<line x1="312.7" y1="372.7" x2="312.7" y2="378.4" stroke="#222" stroke-width="1.5" />
<text x="312.7" y="389.2" font-size="10" font-weight="bold" text-anchor="middle" fill="#111" stroke="#111" stroke-width="0.22" >90</text>
<text x="211.5" y="411" font-size="11.15" font-weight="bold" text-anchor="middle" fill="#111" stroke="#111" stroke-width="0.22" >Tempeature (°C)</text>
<text transform="translate(80.8,304.9) rotate(-90)" font-size="11.1" font-weight="bold" text-anchor="middle" fill="#111" stroke="#111" stroke-width="0.22">CD 230nm (mdeg)</text>
<path d="M110.3 246.22 L112.83 246.31 L115.36 246.4 L117.89 246.5 L120.42 246.6 L122.95 246.71 L125.48 246.82 L128.01 246.95 L130.54 247.08 L133.07 247.21 L135.6 247.36 L138.13 247.51 L140.66 247.68 L143.19 247.85 L145.72 248.03 L148.25 248.23 L150.78 248.44 L153.31 248.65 L155.84 248.89 L158.37 249.13 L160.9 249.39 L163.43 249.67 L165.96 249.96 L168.49 250.27 L171.02 250.59 L173.55 250.94 L176.08 251.3 L178.61 251.69 L181.14 252.1 L183.67 252.53 L186.2 252.99 L188.73 253.48 L191.26 253.99 L193.79 254.53 L196.32 255.11 L198.85 255.71 L201.38 256.35 L203.91 257.03 L206.44 257.74 L208.97 258.49 L211.5 259.29 L214.03 260.13 L216.56 261.01 L219.09 261.94 L221.62 262.93 L224.15 263.96 L226.68 265.05 L229.21 266.2 L231.74 267.41 L234.27 268.68 L236.8 270.02 L239.33 271.43 L241.86 272.91 L244.39 274.46 L246.92 276.08 L249.45 277.79 L251.98 279.58 L254.51 281.45 L257.04 283.41 L259.57 285.46 L262.1 287.6 L264.63 289.83 L267.16 292.17 L269.69 294.6 L272.22 297.13 L274.75 299.77 L277.28 302.51 L279.81 305.35 L282.34 308.3 L284.87 311.36 L287.4 314.53 L289.93 317.8 L292.46 321.18 L294.99 324.67 L297.52 328.26 L300.05 331.95 L302.58 335.74 L305.11 339.64 L307.64 343.62 L310.17 347.7 L312.7 351.87" fill="none" stroke="#222" stroke-width="1.0" stroke-linejoin="round" stroke-linecap="round" />
<path d="M110.3 241.38 L112.83 241.6 L115.36 241.84 L117.89 242.1 L120.42 242.39 L122.95 242.69 L125.48 243.03 L128.01 243.4 L130.54 243.79 L133.07 244.22 L135.6 244.69 L138.13 245.2 L140.66 245.74 L143.19 246.33 L145.72 246.97 L148.25 247.66 L150.78 248.4 L153.31 249.19 L155.84 250.04 L158.37 250.95 L160.9 251.92 L163.43 252.96 L165.96 254.05 L168.49 255.22 L171.02 256.44 L173.55 257.74 L176.08 259.1 L178.61 260.52 L181.14 262.01 L183.67 263.55 L186.2 265.15 L188.73 266.81 L191.26 268.5 L193.79 270.25 L196.32 272.02 L198.85 273.82 L201.38 275.65 L203.91 277.48 L206.44 279.32 L208.97 281.16 L211.5 282.99 L214.03 284.8 L216.56 286.59 L219.09 288.34 L221.62 290.05 L224.15 291.72 L226.68 293.34 L229.21 294.9 L231.74 296.4 L234.27 297.84 L236.8 299.22 L239.33 300.54 L241.86 301.79 L244.39 302.97 L246.92 304.09 L249.45 305.14 L251.98 306.13 L254.51 307.06 L257.04 307.93 L259.57 308.74 L262.1 309.49 L264.63 310.2 L267.16 310.85 L269.69 311.46 L272.22 312.02 L274.75 312.53 L277.28 313.01 L279.81 313.45 L282.34 313.86 L284.87 314.24 L287.4 314.58 L289.93 314.9 L292.46 315.19 L294.99 315.46 L297.52 315.7 L300.05 315.93 L302.58 316.13 L305.11 316.32 L307.64 316.49 L310.17 316.65 L312.7 316.8" fill="none" stroke="#5a66dd" stroke-width="1.0" stroke-linejoin="round" stroke-linecap="round" />
<circle cx="110.3" cy="244.77" r="2.7" fill="#000"/>
<circle cx="135.6" cy="250.84" r="2.7" fill="#000"/>
<circle cx="160.9" cy="246.12" r="2.7" fill="#000"/>
<circle cx="186.2" cy="260.06" r="2.7" fill="#000"/>
<circle cx="211.5" cy="258.26" r="2.7" fill="#000"/>
<circle cx="236.8" cy="271.97" r="2.7" fill="#000"/>
<circle cx="262.1" cy="286.36" r="2.7" fill="#000"/>
<circle cx="287.4" cy="315.14" r="2.7" fill="#000"/>
<circle cx="312.7" cy="351.12" r="2.7" fill="#000"/>
<path d="M107.4 243.05 L110.3 238.05 L113.2 243.05 Z" fill="#3344dd"/>
<path d="M132.7 247.99 L135.6 242.99 L138.5 247.99 Z" fill="#3344dd"/>
<path d="M158 255.64 L160.9 250.64 L163.8 255.64 Z" fill="#3344dd"/>
<path d="M183.3 266.43 L186.2 261.43 L189.1 266.43 Z" fill="#3344dd"/>
<path d="M208.6 287.12 L211.5 282.12 L214.4 287.12 Z" fill="#3344dd"/>
<path d="M233.9 300.61 L236.8 295.61 L239.7 300.61 Z" fill="#3344dd"/>
<path d="M259.2 311.85 L262.1 306.85 L265 311.85 Z" fill="#3344dd"/>
<path d="M284.5 316.34 L287.4 311.34 L290.3 316.34 Z" fill="#3344dd"/>
<path d="M309.8 320.17 L312.7 315.17 L315.6 320.17 Z" fill="#3344dd"/>
<text transform="translate(132.2,325.1) scale(1,1.08)" font-size="15.6" font-weight="bold" fill="#1c24c6" stroke="#1c24c6" stroke-width="0.22">Tm = 47.8 ± 0.1</text>
<line x1="259.3" y1="244.4" x2="273.9" y2="244.4" stroke="#333" stroke-width="1" />
<circle cx="266.6" cy="244.4" r="2.6" fill="#000"/>
<text x="282" y="247.4" font-size="9.2" font-weight="bold" text-anchor="start" fill="#111" stroke="#111" stroke-width="0.22" >pH 6.0</text>
<line x1="259.3" y1="254.9" x2="273.9" y2="254.9" stroke="#6a74e0" stroke-width="1" />
<path d="M263.8 257.2 L266.6 252.3 L269.4 257.2 Z" fill="#3344dd"/>
<text x="282" y="257.9" font-size="9.2" font-weight="bold" text-anchor="start" fill="#111" stroke="#111" stroke-width="0.22" >pH 3.0</text>
<rect x="463.7" y="238.2" width="208.1" height="138.7" fill="none" stroke="#222" stroke-width="1.7"/>
<line x1="458.1" y1="238.2" x2="463.7" y2="238.2" stroke="#222" stroke-width="1.5" />
<text x="456.7" y="241.8" font-size="10" font-weight="bold" text-anchor="end" fill="#111" stroke="#111" stroke-width="0.22" >-5</text>
<line x1="458.1" y1="272.88" x2="463.7" y2="272.88" stroke="#222" stroke-width="1.5" />
<text x="456.7" y="276.48" font-size="10" font-weight="bold" text-anchor="end" fill="#111" stroke="#111" stroke-width="0.22" >-10</text>
<line x1="458.1" y1="307.55" x2="463.7" y2="307.55" stroke="#222" stroke-width="1.5" />
<text x="456.7" y="311.15" font-size="10" font-weight="bold" text-anchor="end" fill="#111" stroke="#111" stroke-width="0.22" >-15</text>
<line x1="458.1" y1="342.22" x2="463.7" y2="342.22" stroke="#222" stroke-width="1.5" />
<text x="456.7" y="345.82" font-size="10" font-weight="bold" text-anchor="end" fill="#111" stroke="#111" stroke-width="0.22" >-20</text>
<line x1="458.1" y1="376.9" x2="463.7" y2="376.9" stroke="#222" stroke-width="1.5" />
<text x="456.7" y="380.5" font-size="10" font-weight="bold" text-anchor="end" fill="#111" stroke="#111" stroke-width="0.22" >-25</text>
<line x1="463.7" y1="376.9" x2="463.7" y2="382.6" stroke="#222" stroke-width="1.5" />
<text x="463.7" y="393.8" font-size="10" font-weight="bold" text-anchor="middle" fill="#111" stroke="#111" stroke-width="0.22" >10</text>
<line x1="489.71" y1="376.9" x2="489.71" y2="382.6" stroke="#222" stroke-width="1.5" />
<text x="489.71" y="393.8" font-size="10" font-weight="bold" text-anchor="middle" fill="#111" stroke="#111" stroke-width="0.22" >20</text>
<line x1="515.73" y1="376.9" x2="515.73" y2="382.6" stroke="#222" stroke-width="1.5" />
<text x="515.73" y="393.8" font-size="10" font-weight="bold" text-anchor="middle" fill="#111" stroke="#111" stroke-width="0.22" >30</text>
<line x1="541.74" y1="376.9" x2="541.74" y2="382.6" stroke="#222" stroke-width="1.5" />
<text x="541.74" y="393.8" font-size="10" font-weight="bold" text-anchor="middle" fill="#111" stroke="#111" stroke-width="0.22" >40</text>
<line x1="567.75" y1="376.9" x2="567.75" y2="382.6" stroke="#222" stroke-width="1.5" />
<text x="567.75" y="393.8" font-size="10" font-weight="bold" text-anchor="middle" fill="#111" stroke="#111" stroke-width="0.22" >50</text>
<line x1="593.76" y1="376.9" x2="593.76" y2="382.6" stroke="#222" stroke-width="1.5" />
<text x="593.76" y="393.8" font-size="10" font-weight="bold" text-anchor="middle" fill="#111" stroke="#111" stroke-width="0.22" >60</text>
<line x1="619.77" y1="376.9" x2="619.77" y2="382.6" stroke="#222" stroke-width="1.5" />
<text x="619.77" y="393.8" font-size="10" font-weight="bold" text-anchor="middle" fill="#111" stroke="#111" stroke-width="0.22" >70</text>
<line x1="645.79" y1="376.9" x2="645.79" y2="382.6" stroke="#222" stroke-width="1.5" />
<text x="645.79" y="393.8" font-size="10" font-weight="bold" text-anchor="middle" fill="#111" stroke="#111" stroke-width="0.22" >80</text>
<line x1="671.8" y1="376.9" x2="671.8" y2="382.6" stroke="#222" stroke-width="1.5" />
<text x="671.8" y="393.8" font-size="10" font-weight="bold" text-anchor="middle" fill="#111" stroke="#111" stroke-width="0.22" >90</text>
<text x="567.75" y="412" font-size="11.15" font-weight="bold" text-anchor="middle" fill="#111" stroke="#111" stroke-width="0.22" >Tempeature (°C)</text>
<text transform="translate(431.6,307.1) rotate(-90)" font-size="11.5" font-weight="bold" text-anchor="middle" fill="#111" stroke="#111" stroke-width="0.22">CD 202nm (mdeg)</text>
<text transform="translate(494.4,297.1) scale(1,1.08)" font-size="15.4" font-weight="bold" fill="#111" stroke="#111" stroke-width="0.22">Tm = 71.9 ± 0.8</text>
<path d="M463.7 349.56 L466.3 349.53 L468.9 349.49 L471.5 349.45 L474.1 349.4 L476.71 349.35 L479.31 349.3 L481.91 349.24 L484.51 349.17 L487.11 349.1 L489.71 349.02 L492.31 348.93 L494.91 348.84 L497.52 348.73 L500.12 348.62 L502.72 348.49 L505.32 348.35 L507.92 348.2 L510.52 348.04 L513.12 347.86 L515.73 347.66 L518.33 347.44 L520.93 347.2 L523.53 346.95 L526.13 346.66 L528.73 346.35 L531.33 346.02 L533.93 345.65 L536.53 345.25 L539.14 344.81 L541.74 344.33 L544.34 343.81 L546.94 343.25 L549.54 342.64 L552.14 341.97 L554.74 341.25 L557.35 340.47 L559.95 339.63 L562.55 338.72 L565.15 337.73 L567.75 336.68 L570.35 335.54 L572.95 334.32 L575.55 333.01 L578.15 331.62 L580.76 330.13 L583.36 328.55 L585.96 326.87 L588.56 325.09 L591.16 323.22 L593.76 321.25 L596.36 319.18 L598.96 317.03 L601.57 314.78 L604.17 312.45 L606.77 310.04 L609.37 307.56 L611.97 305.01 L614.57 302.42 L617.17 299.77 L619.77 297.1 L622.38 294.4 L624.98 291.69 L627.58 288.99 L630.18 286.29 L632.78 283.62 L635.38 280.99 L637.98 278.4 L640.58 275.87 L643.19 273.4 L645.79 271.01 L648.39 268.69 L650.99 266.46 L653.59 264.32 L656.19 262.28 L658.79 260.33 L661.39 258.47 L664 256.72 L666.6 255.06 L669.2 253.49 L671.8 252.02" fill="none" stroke="#444" stroke-width="1.0" stroke-linejoin="round" stroke-linecap="round" />
<circle cx="463.7" cy="355.89" r="2.8" fill="#000"/>
<circle cx="489.71" cy="351.8" r="2.8" fill="#000"/>
<circle cx="515.73" cy="346.66" r="2.8" fill="#000"/>
<circle cx="541.74" cy="338.69" r="2.8" fill="#000"/>
<circle cx="567.75" cy="335.5" r="2.8" fill="#000"/>
<circle cx="593.76" cy="323.22" r="2.8" fill="#000"/>
<circle cx="619.77" cy="300.62" r="2.8" fill="#000"/>
<circle cx="645.79" cy="263.86" r="2.8" fill="#000"/>
<circle cx="671.8" cy="254.15" r="2.8" fill="#000"/>
</svg>
</body></html>
